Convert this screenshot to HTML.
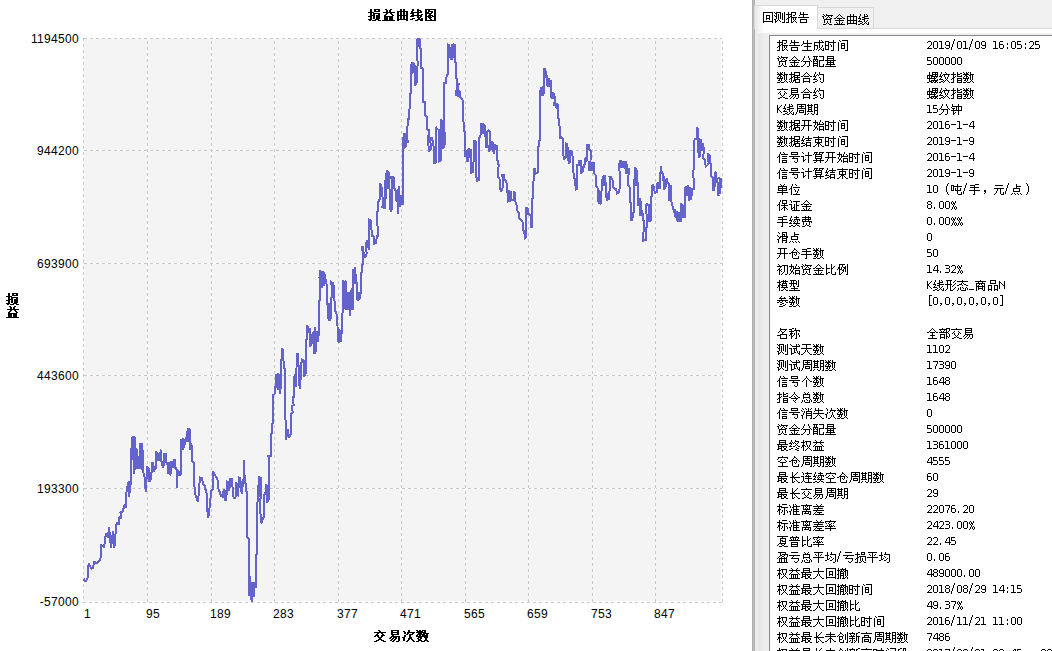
<!DOCTYPE html>
<html lang="zh"><head><meta charset="utf-8"><title>损益曲线图</title>
<style>
html,body{margin:0;padding:0;width:1052px;height:651px;overflow:hidden;background:#fff}
#app{position:relative;width:1052px;height:651px;overflow:hidden;background:#fff;font-family:"Liberation Sans",sans-serif;color:#000}
#chart{position:absolute;left:0;top:0}
.yl,.xl{position:absolute;font:12px/14px "Liberation Sans",sans-serif;white-space:nowrap;letter-spacing:.326px}
.yl{left:0;width:79px;text-align:right;margin-top:1px}
.xl{top:607px}
.t{position:absolute;line-height:0}
.t svg{display:block}
svg.c{shape-rendering:crispEdges;fill:#000;display:inline-block;vertical-align:top}
#side{position:absolute;left:752px;top:0;width:300px;height:651px;background:#f0f0f0;overflow:hidden}
#split{position:absolute;left:0;top:0;width:3px;height:651px;background:linear-gradient(90deg,#a8a8a8,#bcbcbc 50%,#b0b0b0)}
#pane{position:absolute;left:3px;top:28px;width:297px;height:623px;border-top:1px solid #d9d9d9;background:linear-gradient(90deg,#e8e8e8,#fff 9px)}
#pane i{position:absolute;left:3px;top:4px;right:0;bottom:0;background:linear-gradient(90deg,#e6e6e6,#efefef 8px,#f0f0f0)}
#tab1{position:absolute;left:2px;top:5px;width:64px;height:24px;background:linear-gradient(90deg,#e8e8e8,#fff 9px);border:1px solid #d9d9d9;border-bottom:0;box-sizing:border-box}
#tab2{position:absolute;left:66px;top:7px;width:56px;height:22px;background:#f0f0f0;border:1px solid #d9d9d9;border-left:0;box-sizing:border-box}
#tab1 span,#tab2 span{position:absolute;line-height:0}
#list{position:absolute;left:17px;top:35px;width:290px;height:620px;background:#fff;border:1px solid #828790;box-sizing:border-box}
.r{position:absolute;left:0;height:12px;line-height:12px;white-space:nowrap}
.k{position:absolute;left:777px;top:0}
.v{position:absolute;left:927px;top:0}
</style></head><body>
<div id="app">
<svg width="0" height="0" style="position:absolute"><defs><path id="g635fb13" d="M2 1h2v3h-2zM6 1h6v1h-6zM6 2h2v1h-2zM10 2h2v1h-2zM6 3h6v1h-6zM0 4h6v1h-6zM2 5h2v2h-2zM5 5h7v1h-7zM5 6h2v1h-2zM10 6h2v1h-2zM2 7h5v1h-5zM8 7h4v4h-4zM0 8h4v1h-4zM5 8h2v3h-2zM2 9h2v2h-2zM0 11h4v1h-4zM7 11h4v1h-4zM1 12h2v1h-2zM4 12h4v1h-4zM10 12h3v1h-3z"/><path id="g76cab13" d="M3 1h2v1h-2zM8 1h2v1h-2zM4 2h2v2h-2zM7 2h2v2h-2zM1 4h12v1h-12zM4 5h2v1h-2zM8 5h2v1h-2zM3 6h2v1h-2zM9 6h2v1h-2zM2 7h2v1h-2zM10 7h2v1h-2zM2 8h9v1h-9zM2 9h4v3h-4zM7 9h4v3h-4zM0 12h13v1h-13z"/><path id="g66f2b13" d="M4 1h2v2h-2zM7 1h2v2h-2zM1 3h11v1h-11zM1 4h2v3h-2zM4 4h2v3h-2zM7 4h2v3h-2zM10 4h2v3h-2zM1 7h11v1h-11zM1 8h2v3h-2zM4 8h2v3h-2zM7 8h2v3h-2zM10 8h2v3h-2zM1 11h11v1h-11zM1 12h2v1h-2zM10 12h2v1h-2z"/><path id="g7ebfb13" d="M2 1h2v2h-2zM7 1h2v1h-2zM7 2h4v1h-4zM1 3h2v1h-2zM7 3h2v1h-2zM10 3h2v1h-2zM1 4h11v1h-11zM0 5h4v1h-4zM7 5h2v2h-2zM2 6h2v1h-2zM11 6h2v1h-2zM1 7h11v1h-11zM0 8h4v1h-4zM7 8h2v1h-2zM10 8h2v1h-2zM7 9h4v1h-4zM2 10h3v1h-3zM8 10h2v1h-2zM11 10h2v1h-2zM0 11h3v1h-3zM7 11h6v1h-6zM5 12h3v1h-3zM10 12h3v1h-3z"/><path id="g56feb13" d="M1 1h11v1h-11zM1 2h2v2h-2zM4 2h2v1h-2zM10 2h2v6h-2zM4 3h5v1h-5zM1 4h4v1h-4zM7 4h2v1h-2zM1 5h7v1h-7zM1 6h2v2h-2zM5 6h2v1h-2zM4 7h5v1h-5zM1 8h6v1h-6zM8 8h4v1h-4zM1 9h2v3h-2zM4 9h4v1h-4zM10 9h2v3h-2zM5 10h2v1h-2zM6 11h2v1h-2zM1 12h11v1h-11z"/><path id="g4ea4b13" d="M4 1h2v1h-2zM5 2h2v1h-2zM0 3h12v1h-12zM3 4h2v1h-2zM7 4h2v1h-2zM2 5h2v1h-2zM8 5h2v1h-2zM1 6h4v1h-4zM7 6h4v1h-4zM0 7h2v1h-2zM3 7h2v1h-2zM7 7h2v1h-2zM4 8h4v1h-4zM5 9h2v1h-2zM4 10h4v1h-4zM2 11h3v1h-3zM7 11h3v1h-3zM0 12h3v1h-3zM9 12h3v1h-3z"/><path id="g6613b13" d="M3 1h8v1h-8zM3 2h2v1h-2zM9 2h2v1h-2zM3 3h8v1h-8zM3 4h2v1h-2zM9 4h2v1h-2zM3 5h8v1h-8zM4 6h2v1h-2zM3 7h9v1h-9zM2 8h2v1h-2zM5 8h4v1h-4zM10 8h2v4h-2zM1 9h2v1h-2zM4 9h2v1h-2zM7 9h2v1h-2zM3 10h2v1h-2zM6 10h2v1h-2zM2 11h2v1h-2zM5 11h2v1h-2zM4 12h2v1h-2zM8 12h3v1h-3z"/><path id="g6b21b13" d="M6 1h2v2h-2zM1 2h2v1h-2zM2 3h2v2h-2zM5 3h8v1h-8zM5 4h2v1h-2zM10 4h2v1h-2zM4 5h2v1h-2zM7 5h4v1h-4zM2 6h2v2h-2zM7 6h2v2h-2zM0 8h3v1h-3zM7 8h3v1h-3zM1 9h2v3h-2zM6 9h4v1h-4zM6 10h2v1h-2zM9 10h2v1h-2zM5 11h2v1h-2zM10 11h2v1h-2zM4 12h2v1h-2zM11 12h2v1h-2z"/><path id="g6570b13" d="M0 1h2v1h-2zM3 1h2v1h-2zM6 1h4v1h-4zM1 2h6v1h-6zM8 2h2v1h-2zM0 3h10v1h-10zM2 4h4v1h-4zM7 4h6v1h-6zM1 5h8v1h-8zM10 5h2v1h-2zM0 6h2v1h-2zM3 6h2v1h-2zM6 6h6v1h-6zM0 7h12v1h-12zM2 8h4v1h-4zM8 8h4v1h-4zM1 9h2v1h-2zM4 9h2v1h-2zM9 9h2v2h-2zM2 10h3v1h-3zM2 11h4v1h-4zM8 11h4v1h-4zM0 12h3v1h-3zM5 12h4v1h-4zM11 12h2v1h-2z"/><path id="g56de" d="M1 1h10v1h-10zM1 2h1v8h-1zM10 2h1v8h-1zM4 4h4v1h-4zM4 5h1v2h-1zM7 5h1v2h-1zM4 7h4v1h-4zM4 8h1v1h-1zM7 8h1v1h-1zM1 10h10v1h-10zM1 11h1v1h-1zM10 11h1v1h-1z"/><path id="g6d4b" d="M0 1h1v1h-1zM2 1h5v1h-5zM10 1h1v10h-1zM1 2h2v1h-2zM6 2h1v6h-1zM8 2h1v7h-1zM2 3h1v2h-1zM4 3h1v6h-1zM0 4h1v1h-1zM1 5h2v1h-2zM2 6h1v2h-1zM0 8h2v1h-2zM1 9h1v1h-1zM3 9h1v1h-1zM5 9h1v1h-1zM1 10h2v1h-2zM6 10h1v1h-1zM1 11h1v1h-1zM8 11h3v1h-3z"/><path id="g62a5" d="M2 1h1v2h-1zM5 1h5v1h-5zM5 2h1v1h-1zM9 2h1v2h-1zM0 3h6v1h-6zM2 4h1v2h-1zM5 4h1v1h-1zM7 4h2v1h-2zM4 5h2v1h-2zM2 6h2v1h-2zM5 6h6v1h-6zM1 7h2v1h-2zM5 7h1v4h-1zM7 7h1v2h-1zM9 7h1v2h-1zM0 8h1v1h-1zM2 8h1v3h-1zM8 9h1v1h-1zM7 10h1v1h-1zM9 10h1v1h-1zM0 11h3v1h-3zM5 11h2v1h-2zM10 11h1v1h-1z"/><path id="g544a" d="M2 1h1v2h-1zM5 1h1v2h-1zM2 3h8v1h-8zM1 4h1v1h-1zM5 4h1v2h-1zM0 6h11v1h-11zM2 8h7v1h-7zM2 9h1v2h-1zM8 9h1v2h-1zM2 11h7v1h-7z"/><path id="g8d44" d="M1 1h1v1h-1zM4 1h1v1h-1zM2 2h1v1h-1zM4 2h7v1h-7zM0 3h2v1h-2zM3 3h1v1h-1zM6 3h1v1h-1zM9 3h1v1h-1zM1 4h1v2h-1zM5 4h1v1h-1zM7 4h1v1h-1zM4 5h1v1h-1zM8 5h2v1h-2zM2 6h7v1h-7zM2 7h1v3h-1zM8 7h1v3h-1zM5 8h1v2h-1zM4 10h1v1h-1zM6 10h1v1h-1zM1 11h3v1h-3zM7 11h3v1h-3z"/><path id="g91d1" d="M5 1h1v1h-1zM4 2h1v1h-1zM6 2h1v1h-1zM3 3h1v1h-1zM7 3h1v1h-1zM2 4h1v1h-1zM8 4h1v1h-1zM0 5h2v1h-2zM3 5h5v1h-5zM9 5h2v1h-2zM5 6h1v1h-1zM1 7h9v1h-9zM5 8h1v3h-1zM2 9h1v1h-1zM8 9h1v1h-1zM3 10h1v1h-1zM7 10h1v1h-1zM0 11h11v1h-11z"/><path id="g66f2" d="M4 1h1v2h-1zM7 1h1v2h-1zM1 3h10v1h-10zM1 4h1v3h-1zM4 4h1v3h-1zM7 4h1v3h-1zM10 4h1v3h-1zM1 7h10v1h-10zM1 8h1v2h-1zM4 8h1v2h-1zM7 8h1v2h-1zM10 8h1v2h-1zM1 10h10v1h-10zM1 11h1v1h-1zM10 11h1v1h-1z"/><path id="g7ebf" d="M2 1h1v2h-1zM6 1h1v2h-1zM8 1h1v1h-1zM9 2h1v1h-1zM1 3h1v2h-1zM6 3h4v1h-4zM4 4h3v1h-3zM0 5h3v1h-3zM6 5h5v1h-5zM2 6h1v1h-1zM4 6h3v1h-3zM1 7h1v1h-1zM6 7h1v2h-1zM9 7h1v1h-1zM0 8h4v1h-4zM8 8h1v1h-1zM4 9h1v1h-1zM7 9h1v1h-1zM10 9h1v2h-1zM2 10h2v1h-2zM6 10h1v1h-1zM8 10h1v1h-1zM0 11h2v1h-2zM4 11h2v1h-2zM9 11h2v1h-2z"/><path id="g751f" d="M6 1h1v3h-1zM2 2h1v2h-1zM2 4h9v1h-9zM1 5h1v1h-1zM6 5h1v2h-1zM0 6h1v1h-1zM3 7h7v1h-7zM6 8h1v3h-1zM1 11h10v1h-10z"/><path id="g6210" d="M6 1h1v2h-1zM8 1h1v1h-1zM9 2h1v1h-1zM1 3h10v1h-10zM1 4h1v2h-1zM6 4h1v5h-1zM1 6h4v1h-4zM9 6h1v2h-1zM1 7h1v4h-1zM4 7h1v3h-1zM8 8h1v1h-1zM7 9h1v1h-1zM10 9h1v2h-1zM3 10h1v1h-1zM6 10h1v1h-1zM8 10h1v1h-1zM0 11h1v1h-1zM5 11h1v1h-1zM9 11h2v1h-2z"/><path id="g65f6" d="M8 1h1v2h-1zM0 2h4v1h-4zM0 3h1v3h-1zM3 3h8v1h-8zM3 4h1v2h-1zM8 4h1v7h-1zM5 5h1v1h-1zM0 6h4v1h-4zM6 6h1v2h-1zM0 7h1v3h-1zM3 7h1v3h-1zM0 10h4v1h-4zM6 11h3v1h-3z"/><path id="g95f4" d="M2 1h1v1h-1zM5 1h6v1h-6zM3 2h1v1h-1zM10 2h1v9h-1zM1 3h1v9h-1zM4 4h4v1h-4zM4 5h1v1h-1zM7 5h1v1h-1zM4 6h4v1h-4zM4 7h1v2h-1zM7 7h1v2h-1zM4 9h4v1h-4zM8 11h3v1h-3z"/><path id="g32" d="M1 3h3v1h-3zM0 4h1v1h-1zM4 4h1v3h-1zM3 7h1v1h-1zM2 8h1v1h-1zM1 9h1v1h-1zM0 10h5v1h-5z"/><path id="g30" d="M1 3h3v1h-3zM0 4h1v6h-1zM4 4h1v6h-1zM1 10h3v1h-3z"/><path id="g31" d="M0 3h3v1h-3zM2 4h1v6h-1zM0 10h5v1h-5z"/><path id="g39" d="M1 3h3v1h-3zM0 4h1v3h-1zM4 4h1v3h-1zM1 7h4v1h-4zM4 8h1v2h-1zM0 9h1v1h-1zM1 10h3v1h-3z"/><path id="g2f" d="M3 0h1v3h-1zM2 3h1v3h-1zM1 6h1v3h-1zM0 9h1v3h-1z"/><path id="g36" d="M1 3h3v1h-3zM0 4h1v2h-1zM0 6h4v1h-4zM0 7h1v3h-1zM4 7h1v3h-1zM1 10h3v1h-3z"/><path id="g3a" d="M0 5h1v2h-1zM0 9h1v2h-1z"/><path id="g35" d="M0 3h4v1h-4zM0 4h1v2h-1zM0 6h4v1h-4zM4 7h1v3h-1zM0 10h4v1h-4z"/><path id="g5206" d="M3 1h1v2h-1zM7 1h1v2h-1zM2 3h1v2h-1zM8 3h1v2h-1zM1 5h1v1h-1zM9 5h1v1h-1zM0 6h1v1h-1zM2 6h7v1h-7zM10 6h1v1h-1zM4 7h1v2h-1zM8 7h1v4h-1zM3 9h1v1h-1zM2 10h1v1h-1zM0 11h2v1h-2zM6 11h2v1h-2z"/><path id="g914d" d="M0 1h5v1h-5zM6 1h5v1h-5zM1 2h1v2h-1zM3 2h1v2h-1zM10 2h1v3h-1zM0 4h5v1h-5zM0 5h1v1h-1zM2 5h1v1h-1zM4 5h1v1h-1zM6 5h5v1h-5zM0 6h2v1h-2zM3 6h2v1h-2zM6 6h1v5h-1zM0 7h1v1h-1zM4 7h1v1h-1zM0 8h5v1h-5zM0 9h1v1h-1zM4 9h1v1h-1zM10 9h1v2h-1zM0 10h5v1h-5zM0 11h1v1h-1zM4 11h1v1h-1zM6 11h5v1h-5z"/><path id="g91cf" d="M2 1h7v1h-7zM2 2h1v1h-1zM8 2h1v1h-1zM2 3h7v1h-7zM2 4h1v1h-1zM8 4h1v1h-1zM0 5h11v1h-11zM2 6h1v1h-1zM5 6h1v1h-1zM8 6h1v1h-1zM2 7h7v1h-7zM2 8h1v1h-1zM5 8h1v1h-1zM8 8h1v1h-1zM1 9h9v1h-9zM5 10h1v1h-1zM0 11h11v1h-11z"/><path id="g6570" d="M0 1h1v1h-1zM3 1h1v1h-1zM5 1h1v1h-1zM7 1h1v2h-1zM1 2h1v1h-1zM3 2h2v1h-2zM0 3h6v1h-6zM7 3h4v1h-4zM2 4h2v1h-2zM6 4h2v1h-2zM9 4h1v5h-1zM1 5h1v1h-1zM3 5h2v1h-2zM7 5h1v4h-1zM0 6h1v1h-1zM3 6h1v1h-1zM5 6h1v1h-1zM0 7h6v1h-6zM2 8h1v1h-1zM4 8h1v2h-1zM1 9h2v1h-2zM8 9h1v1h-1zM3 10h1v1h-1zM7 10h1v1h-1zM9 10h1v1h-1zM0 11h3v1h-3zM4 11h3v1h-3zM10 11h1v1h-1z"/><path id="g636e" d="M2 1h1v2h-1zM5 1h6v1h-6zM5 2h1v1h-1zM10 2h1v2h-1zM0 3h6v1h-6zM2 4h1v2h-1zM5 4h6v1h-6zM4 5h2v1h-2zM8 5h1v1h-1zM2 6h2v1h-2zM5 6h6v1h-6zM1 7h2v1h-2zM5 7h1v1h-1zM8 7h1v1h-1zM0 8h1v1h-1zM2 8h1v3h-1zM5 8h6v1h-6zM4 9h3v1h-3zM10 9h1v2h-1zM0 10h1v1h-1zM4 10h1v1h-1zM6 10h1v1h-1zM1 11h1v1h-1zM3 11h1v1h-1zM6 11h5v1h-5z"/><path id="g5408" d="M5 1h1v1h-1zM4 2h1v1h-1zM6 2h1v1h-1zM3 3h1v1h-1zM7 3h1v1h-1zM2 4h1v1h-1zM8 4h1v1h-1zM0 5h2v1h-2zM3 5h5v1h-5zM9 5h2v1h-2zM2 7h7v1h-7zM2 8h1v2h-1zM8 8h1v2h-1zM2 10h7v1h-7zM2 11h1v1h-1zM8 11h1v1h-1z"/><path id="g7ea6" d="M2 1h1v2h-1zM6 1h1v2h-1zM1 3h1v2h-1zM4 3h1v1h-1zM6 3h5v1h-5zM3 4h1v1h-1zM5 4h1v1h-1zM10 4h1v7h-1zM0 5h3v1h-3zM2 6h1v1h-1zM6 6h1v1h-1zM1 7h1v1h-1zM7 7h1v2h-1zM0 8h4v1h-4zM4 9h1v1h-1zM2 10h2v1h-2zM7 10h1v1h-1zM0 11h2v1h-2zM8 11h2v1h-2z"/><path id="g87ba" d="M2 1h1v3h-1zM5 1h6v1h-6zM5 2h1v1h-1zM8 2h1v1h-1zM10 2h1v1h-1zM5 3h6v1h-6zM0 4h6v1h-6zM8 4h1v1h-1zM10 4h1v1h-1zM0 5h1v2h-1zM2 5h1v2h-1zM4 5h7v1h-7zM4 6h1v1h-1zM7 6h1v1h-1zM9 6h1v1h-1zM0 7h9v1h-9zM2 8h1v2h-1zM7 8h1v1h-1zM10 8h1v1h-1zM4 9h7v1h-7zM2 10h3v1h-3zM6 10h1v1h-1zM8 10h2v1h-2zM0 11h2v1h-2zM4 11h2v1h-2zM7 11h2v1h-2zM10 11h1v1h-1z"/><path id="g7eb9" d="M2 1h1v2h-1zM6 1h1v1h-1zM7 2h1v1h-1zM1 3h1v2h-1zM4 3h7v1h-7zM3 4h1v1h-1zM5 4h1v2h-1zM9 4h1v2h-1zM0 5h3v1h-3zM2 6h1v1h-1zM6 6h1v2h-1zM8 6h1v2h-1zM1 7h1v1h-1zM0 8h4v1h-4zM7 8h1v1h-1zM4 9h1v1h-1zM6 9h1v1h-1zM8 9h1v1h-1zM2 10h2v1h-2zM5 10h1v1h-1zM9 10h1v1h-1zM0 11h2v1h-2zM4 11h1v1h-1zM10 11h1v1h-1z"/><path id="g6307" d="M2 1h1v2h-1zM6 1h1v2h-1zM9 2h2v1h-2zM0 3h5v1h-5zM6 3h3v1h-3zM2 4h1v2h-1zM6 4h1v1h-1zM10 4h1v1h-1zM4 5h1v1h-1zM6 5h5v1h-5zM2 6h2v1h-2zM1 7h2v1h-2zM6 7h5v1h-5zM0 8h1v1h-1zM2 8h1v3h-1zM6 8h1v1h-1zM10 8h1v1h-1zM6 9h5v1h-5zM6 10h1v1h-1zM10 10h1v1h-1zM0 11h3v1h-3zM6 11h5v1h-5z"/><path id="g4ea4" d="M5 1h1v1h-1zM0 2h11v1h-11zM3 4h1v1h-1zM7 4h1v1h-1zM2 5h1v1h-1zM8 5h1v1h-1zM1 6h1v1h-1zM3 6h1v2h-1zM7 6h1v2h-1zM9 6h1v1h-1zM4 8h1v1h-1zM6 8h1v1h-1zM5 9h1v1h-1zM3 10h2v1h-2zM6 10h2v1h-2zM1 11h2v1h-2zM8 11h3v1h-3z"/><path id="g6613" d="M2 1h7v1h-7zM2 2h1v1h-1zM8 2h1v1h-1zM2 3h7v1h-7zM2 4h1v1h-1zM8 4h1v1h-1zM2 5h7v1h-7zM2 6h1v1h-1zM2 7h8v1h-8zM1 8h1v1h-1zM4 8h1v1h-1zM6 8h1v2h-1zM9 8h1v3h-1zM0 9h1v1h-1zM3 9h1v1h-1zM2 10h1v1h-1zM5 10h1v1h-1zM1 11h1v1h-1zM4 11h1v1h-1zM7 11h2v1h-2z"/><path id="g4b" d="M0 3h1v3h-1zM4 3h1v1h-1zM3 4h1v1h-1zM2 5h1v1h-1zM0 6h2v2h-2zM0 8h1v3h-1zM2 8h1v1h-1zM3 9h1v1h-1zM4 10h1v1h-1z"/><path id="g5468" d="M2 1h9v1h-9zM2 2h1v3h-1zM6 2h1v1h-1zM10 2h1v3h-1zM4 3h5v1h-5zM6 4h1v1h-1zM2 5h9v1h-9zM2 6h1v3h-1zM10 6h1v5h-1zM4 7h5v1h-5zM4 8h1v1h-1zM8 8h1v1h-1zM1 9h1v2h-1zM4 9h5v1h-5zM0 11h1v1h-1zM9 11h2v1h-2z"/><path id="g671f" d="M1 1h1v1h-1zM4 1h1v1h-1zM7 1h4v1h-4zM0 2h6v1h-6zM7 2h1v2h-1zM10 2h1v2h-1zM1 3h1v1h-1zM4 3h1v1h-1zM1 4h4v1h-4zM7 4h4v1h-4zM1 5h1v1h-1zM4 5h1v1h-1zM7 5h1v2h-1zM10 5h1v2h-1zM1 6h4v1h-4zM1 7h1v1h-1zM4 7h1v1h-1zM7 7h4v1h-4zM0 8h6v1h-6zM7 8h1v3h-1zM10 8h1v3h-1zM1 10h1v1h-1zM4 10h1v1h-1zM0 11h1v1h-1zM5 11h2v1h-2zM9 11h2v1h-2z"/><path id="g949f" d="M1 1h1v2h-1zM7 1h1v2h-1zM1 3h10v1h-10zM0 4h1v1h-1zM5 4h1v3h-1zM7 4h1v3h-1zM10 4h1v3h-1zM1 5h3v1h-3zM2 6h1v1h-1zM0 7h11v1h-11zM2 8h1v2h-1zM7 8h1v4h-1zM4 9h1v1h-1zM2 10h2v1h-2zM2 11h1v1h-1z"/><path id="g5f00" d="M1 1h9v1h-9zM3 2h1v4h-1zM7 2h1v4h-1zM0 6h11v1h-11zM3 7h1v1h-1zM7 7h1v5h-1zM2 8h1v2h-1zM1 10h1v1h-1zM0 11h1v1h-1z"/><path id="g59cb" d="M2 1h1v2h-1zM7 1h1v2h-1zM0 3h5v1h-5zM6 3h1v2h-1zM9 3h1v1h-1zM2 4h1v2h-1zM4 4h1v1h-1zM10 4h1v1h-1zM4 5h7v1h-7zM1 6h1v2h-1zM4 6h1v1h-1zM3 7h1v1h-1zM6 7h5v1h-5zM2 8h2v1h-2zM6 8h1v2h-1zM10 8h1v2h-1zM2 9h1v1h-1zM4 9h1v2h-1zM1 10h1v1h-1zM6 10h5v1h-5zM0 11h1v1h-1zM6 11h1v1h-1zM10 11h1v1h-1z"/><path id="g2d" d="M0 6h5v1h-5z"/><path id="g34" d="M3 3h2v1h-2zM2 4h1v1h-1zM4 4h1v4h-1zM1 5h1v2h-1zM0 7h1v1h-1zM0 8h6v1h-6zM4 9h1v2h-1z"/><path id="g7ed3" d="M2 1h1v2h-1zM7 1h1v2h-1zM1 3h1v2h-1zM4 3h7v1h-7zM3 4h1v1h-1zM7 4h1v1h-1zM0 5h3v1h-3zM5 5h5v1h-5zM2 6h1v1h-1zM1 7h1v1h-1zM5 7h5v1h-5zM0 8h4v1h-4zM5 8h1v1h-1zM9 8h1v2h-1zM4 9h2v1h-2zM2 10h2v1h-2zM5 10h5v1h-5zM0 11h2v1h-2zM5 11h1v1h-1zM9 11h1v1h-1z"/><path id="g675f" d="M5 1h1v1h-1zM0 2h11v1h-11zM5 3h1v1h-1zM2 4h7v1h-7zM2 5h1v2h-1zM5 5h1v2h-1zM8 5h1v2h-1zM2 7h7v1h-7zM4 8h3v1h-3zM3 9h1v1h-1zM5 9h1v3h-1zM7 9h1v1h-1zM2 10h1v1h-1zM8 10h1v1h-1zM0 11h2v1h-2zM9 11h2v1h-2z"/><path id="g4fe1" d="M3 1h1v2h-1zM6 1h1v1h-1zM7 2h1v1h-1zM2 3h1v2h-1zM4 3h7v1h-7zM1 5h2v1h-2zM5 5h5v1h-5zM0 6h1v1h-1zM2 6h1v6h-1zM5 7h5v1h-5zM5 9h5v1h-5zM5 10h1v1h-1zM9 10h1v1h-1zM5 11h5v1h-5z"/><path id="g53f7" d="M2 1h7v1h-7zM2 2h1v1h-1zM8 2h1v1h-1zM2 3h7v1h-7zM0 5h11v1h-11zM4 6h1v1h-1zM3 7h6v1h-6zM8 8h1v3h-1zM5 10h1v1h-1zM6 11h2v1h-2z"/><path id="g8ba1" d="M1 1h1v1h-1zM7 1h1v3h-1zM2 2h1v1h-1zM4 4h7v1h-7zM0 5h3v1h-3zM7 5h1v7h-1zM2 6h1v3h-1zM4 8h1v1h-1zM2 9h2v1h-2zM2 10h1v1h-1z"/><path id="g7b97" d="M1 1h4v1h-4zM6 1h5v1h-5zM1 2h1v1h-1zM3 2h1v1h-1zM6 2h1v1h-1zM9 2h1v1h-1zM0 3h1v1h-1zM2 3h7v1h-7zM2 4h1v1h-1zM8 4h1v1h-1zM2 5h7v1h-7zM2 6h1v1h-1zM8 6h1v1h-1zM2 7h7v1h-7zM3 8h1v1h-1zM7 8h1v1h-1zM0 9h11v1h-11zM3 10h1v1h-1zM7 10h1v2h-1zM1 11h2v1h-2z"/><path id="g5355" d="M3 1h1v1h-1zM7 1h1v1h-1zM4 2h1v1h-1zM6 2h1v1h-1zM1 3h9v1h-9zM1 4h1v1h-1zM5 4h1v1h-1zM9 4h1v1h-1zM1 5h9v1h-9zM1 6h1v1h-1zM5 6h1v1h-1zM9 6h1v1h-1zM1 7h9v1h-9zM5 8h1v1h-1zM0 9h11v1h-11zM5 10h1v2h-1z"/><path id="g4f4d" d="M3 1h1v2h-1zM6 1h1v1h-1zM7 2h1v1h-1zM2 3h1v2h-1zM4 4h7v1h-7zM1 5h2v1h-2zM0 6h1v1h-1zM2 6h1v6h-1zM5 6h1v1h-1zM9 6h1v2h-1zM6 7h1v2h-1zM8 8h1v2h-1zM7 10h1v1h-1zM4 11h7v1h-7z"/><path id="gff08" d="M9 0h1v1h-1zM8 1h1v2h-1zM7 3h1v6h-1zM8 9h1v2h-1zM9 11h1v1h-1z"/><path id="g5428" d="M6 1h1v2h-1zM0 2h3v1h-3zM0 3h1v4h-1zM2 3h9v1h-9zM2 4h1v3h-1zM6 4h1v3h-1zM4 5h1v2h-1zM9 5h1v2h-1zM0 7h3v1h-3zM4 7h6v1h-6zM6 8h1v3h-1zM10 9h1v2h-1zM7 11h4v1h-4z"/><path id="g624b" d="M6 1h4v1h-4zM1 2h5v1h-5zM5 3h1v1h-1zM1 4h9v1h-9zM5 5h1v2h-1zM0 7h11v1h-11zM5 8h1v3h-1zM4 11h2v1h-2z"/><path id="gff0c" d="M3 7h2v2h-2zM4 9h1v1h-1zM3 10h1v1h-1z"/><path id="g5143" d="M2 2h8v1h-8zM1 5h10v1h-10zM4 6h1v2h-1zM7 6h1v5h-1zM3 8h1v2h-1zM10 9h1v2h-1zM2 10h1v1h-1zM1 11h1v1h-1zM8 11h3v1h-3z"/><path id="g70b9" d="M5 1h1v2h-1zM5 3h5v1h-5zM5 4h1v1h-1zM2 5h7v1h-7zM2 6h1v2h-1zM8 6h1v2h-1zM2 8h7v1h-7zM1 10h1v1h-1zM3 10h1v1h-1zM6 10h1v1h-1zM9 10h1v1h-1zM0 11h1v1h-1zM4 11h1v1h-1zM7 11h1v1h-1zM10 11h1v1h-1z"/><path id="gff09" d="M3 0h1v1h-1zM4 1h1v2h-1zM5 3h1v6h-1zM4 9h1v2h-1zM3 11h1v1h-1z"/><path id="g4fdd" d="M3 1h1v2h-1zM5 1h5v1h-5zM5 2h1v2h-1zM9 2h1v2h-1zM2 3h1v2h-1zM5 4h5v1h-5zM1 5h2v1h-2zM7 5h1v1h-1zM0 6h1v1h-1zM2 6h1v6h-1zM4 6h7v1h-7zM7 7h1v1h-1zM6 8h3v1h-3zM5 9h1v1h-1zM7 9h1v3h-1zM9 9h1v1h-1zM4 10h1v1h-1zM10 10h1v1h-1z"/><path id="g8bc1" d="M1 1h1v1h-1zM2 2h1v2h-1zM4 2h7v1h-7zM7 3h1v3h-1zM0 5h3v1h-3zM5 5h1v3h-1zM2 6h1v3h-1zM7 6h3v1h-3zM7 7h1v4h-1zM4 8h2v1h-2zM2 9h2v1h-2zM5 9h1v2h-1zM2 10h1v1h-1zM3 11h8v1h-8z"/><path id="g38" d="M1 3h3v1h-3zM0 4h1v2h-1zM4 4h1v2h-1zM1 6h3v1h-3zM0 7h1v3h-1zM4 7h1v3h-1zM1 10h3v1h-3z"/><path id="g2e" d="M2 9h1v2h-1z"/><path id="g25" d="M1 3h1v1h-1zM4 3h1v2h-1zM0 4h1v2h-1zM2 4h1v1h-1zM2 5h2v1h-2zM1 6h1v1h-1zM3 6h1v1h-1zM2 7h1v2h-1zM4 8h1v1h-1zM1 9h1v2h-1zM3 9h1v2h-1zM5 9h1v2h-1zM0 11h1v1h-1zM4 11h1v1h-1z"/><path id="g7eed" d="M2 1h1v2h-1zM7 1h1v1h-1zM5 2h5v1h-5zM1 3h1v2h-1zM7 3h1v1h-1zM3 4h1v1h-1zM5 4h6v1h-6zM0 5h3v1h-3zM5 5h1v1h-1zM8 5h1v3h-1zM10 5h1v1h-1zM2 6h1v1h-1zM4 6h1v1h-1zM6 6h1v1h-1zM1 7h1v1h-1zM5 7h1v1h-1zM0 8h3v1h-3zM4 8h7v1h-7zM7 9h1v1h-1zM2 10h2v1h-2zM6 10h1v1h-1zM8 10h2v1h-2zM0 11h2v1h-2zM4 11h2v1h-2zM10 11h1v1h-1z"/><path id="g8d39" d="M4 1h1v1h-1zM7 1h1v1h-1zM1 2h9v1h-9zM4 3h1v1h-1zM7 3h1v1h-1zM9 3h1v1h-1zM1 4h9v1h-9zM1 5h1v1h-1zM4 5h1v1h-1zM7 5h1v1h-1zM1 6h10v1h-10zM2 7h1v3h-1zM8 7h1v3h-1zM10 7h1v1h-1zM5 8h1v2h-1zM4 10h1v1h-1zM6 10h2v1h-2zM1 11h3v1h-3zM8 11h2v1h-2z"/><path id="g6ed1" d="M1 1h1v1h-1zM5 1h5v1h-5zM2 2h1v1h-1zM5 2h1v1h-1zM9 2h1v3h-1zM5 3h3v1h-3zM0 4h1v1h-1zM5 4h1v1h-1zM7 4h1v1h-1zM1 5h1v1h-1zM3 5h8v1h-8zM2 6h2v1h-2zM5 6h1v1h-1zM9 6h2v1h-2zM2 7h1v1h-1zM5 7h5v1h-5zM0 8h2v1h-2zM5 8h1v1h-1zM9 8h1v1h-1zM1 9h1v3h-1zM5 9h5v1h-5zM5 10h1v2h-1zM9 10h1v1h-1zM8 11h2v1h-2z"/><path id="g4ed3" d="M5 1h1v1h-1zM5 2h2v1h-2zM4 3h1v1h-1zM7 3h1v1h-1zM3 4h1v1h-1zM8 4h1v1h-1zM2 5h6v1h-6zM9 5h1v1h-1zM0 6h2v1h-2zM3 6h1v5h-1zM7 6h1v2h-1zM10 6h1v1h-1zM5 7h1v1h-1zM6 8h1v1h-1zM9 9h1v2h-1zM4 11h6v1h-6z"/><path id="g521d" d="M1 1h1v1h-1zM2 2h1v1h-1zM5 2h6v1h-6zM0 3h5v1h-5zM7 3h1v6h-1zM10 3h1v8h-1zM3 4h1v1h-1zM2 5h1v1h-1zM1 6h2v1h-2zM4 6h1v1h-1zM0 7h1v1h-1zM2 7h2v1h-2zM2 8h1v4h-1zM4 8h1v1h-1zM6 9h1v1h-1zM5 10h1v1h-1zM4 11h1v1h-1zM8 11h2v1h-2z"/><path id="g6bd4" d="M1 1h1v4h-1zM6 1h1v4h-1zM9 3h1v1h-1zM8 4h1v1h-1zM1 5h4v1h-4zM6 5h2v1h-2zM1 6h1v4h-1zM6 6h1v5h-1zM3 9h2v1h-2zM10 9h1v2h-1zM1 10h2v1h-2zM1 11h1v1h-1zM7 11h4v1h-4z"/><path id="g4f8b" d="M2 1h6v1h-6zM10 1h1v10h-1zM2 2h1v2h-1zM5 2h1v2h-1zM8 3h1v1h-1zM1 4h2v2h-2zM4 4h1v2h-1zM6 4h3v1h-3zM7 5h2v1h-2zM0 6h1v1h-1zM2 6h3v1h-3zM6 6h1v1h-1zM8 6h1v3h-1zM2 7h1v4h-1zM5 7h2v1h-2zM6 8h1v1h-1zM5 9h1v1h-1zM4 10h1v1h-1zM2 11h2v1h-2zM9 11h2v1h-2z"/><path id="g33" d="M0 3h4v1h-4zM4 4h1v2h-1zM1 6h3v1h-3zM4 7h1v3h-1zM0 10h4v1h-4z"/><path id="g6a21" d="M2 1h1v2h-1zM6 1h1v1h-1zM8 1h1v1h-1zM4 2h7v1h-7zM0 3h4v1h-4zM6 3h1v1h-1zM8 3h1v1h-1zM2 4h1v1h-1zM5 4h5v1h-5zM2 5h2v1h-2zM5 5h1v1h-1zM9 5h1v1h-1zM1 6h2v2h-2zM4 6h6v1h-6zM5 7h1v1h-1zM9 7h1v1h-1zM0 8h1v1h-1zM2 8h1v4h-1zM4 8h7v1h-7zM7 9h1v1h-1zM6 10h1v1h-1zM8 10h1v1h-1zM4 11h2v1h-2zM9 11h2v1h-2z"/><path id="g578b" d="M1 1h6v1h-6zM9 1h1v6h-1zM2 2h1v2h-1zM4 2h1v2h-1zM7 2h1v2h-1zM0 4h8v1h-8zM2 5h1v2h-1zM4 5h1v2h-1zM7 5h1v1h-1zM1 7h1v1h-1zM4 7h2v1h-2zM8 7h2v1h-2zM5 8h1v1h-1zM2 9h7v1h-7zM5 10h1v1h-1zM0 11h11v1h-11z"/><path id="g5f62" d="M1 1h6v1h-6zM10 1h1v1h-1zM2 2h1v3h-1zM5 2h1v3h-1zM9 2h1v1h-1zM8 3h1v1h-1zM10 4h1v1h-1zM0 5h7v1h-7zM9 5h1v1h-1zM2 6h1v4h-1zM5 6h1v5h-1zM8 6h1v1h-1zM7 7h1v1h-1zM10 8h1v1h-1zM9 9h1v1h-1zM1 10h1v1h-1zM8 10h1v1h-1zM0 11h1v1h-1zM5 11h3v1h-3z"/><path id="g6001" d="M5 1h1v1h-1zM0 2h11v1h-11zM5 3h1v1h-1zM4 4h1v1h-1zM6 4h1v1h-1zM2 5h3v1h-3zM7 5h2v1h-2zM0 6h2v1h-2zM5 6h1v1h-1zM9 6h2v1h-2zM3 8h1v3h-1zM5 8h1v1h-1zM9 8h1v1h-1zM1 9h1v2h-1zM6 9h1v1h-1zM8 9h1v2h-1zM10 9h1v2h-1zM0 11h1v1h-1zM4 11h5v1h-5z"/><path id="g5f" d="M0 11h5v1h-5z"/><path id="g5546" d="M5 1h1v1h-1zM0 2h11v1h-11zM3 3h1v1h-1zM7 3h1v1h-1zM1 4h9v1h-9zM1 5h1v2h-1zM4 5h1v1h-1zM6 5h1v1h-1zM9 5h1v2h-1zM3 6h1v1h-1zM7 6h1v1h-1zM1 7h9v1h-9zM1 8h1v4h-1zM3 8h1v1h-1zM7 8h1v1h-1zM9 8h1v3h-1zM3 9h5v1h-5zM3 10h1v1h-1zM7 10h1v1h-1zM8 11h2v1h-2z"/><path id="g54c1" d="M3 1h6v1h-6zM3 2h1v2h-1zM8 2h1v2h-1zM3 4h6v1h-6zM1 6h4v1h-4zM7 6h4v1h-4zM1 7h1v3h-1zM4 7h1v3h-1zM7 7h1v3h-1zM10 7h1v3h-1zM1 10h4v1h-4zM7 10h4v1h-4zM1 11h1v1h-1zM4 11h1v1h-1zM7 11h1v1h-1zM10 11h1v1h-1z"/><path id="g4e" d="M0 3h1v1h-1zM5 3h1v4h-1zM0 4h2v1h-2zM0 5h1v6h-1zM2 5h1v1h-1zM3 6h1v1h-1zM4 7h2v1h-2zM5 8h1v3h-1z"/><path id="g53c2" d="M4 1h1v1h-1zM3 2h1v1h-1zM7 2h1v1h-1zM2 3h7v1h-7zM4 4h1v1h-1zM0 5h11v1h-11zM2 6h1v1h-1zM5 6h1v1h-1zM8 6h1v1h-1zM0 7h2v1h-2zM3 7h2v1h-2zM9 7h2v1h-2zM5 8h2v1h-2zM3 9h2v1h-2zM8 9h1v1h-1zM6 10h2v1h-2zM2 11h4v1h-4z"/><path id="g5b" d="M2 1h3v1h-3zM2 2h1v9h-1zM2 11h3v1h-3z"/><path id="g2c" d="M2 9h2v1h-2zM3 10h1v1h-1zM2 11h1v1h-1z"/><path id="g5d" d="M1 1h3v1h-3zM3 2h1v9h-1zM1 11h3v1h-3z"/><path id="g540d" d="M3 1h1v1h-1zM3 2h7v1h-7zM3 3h1v1h-1zM8 3h1v1h-1zM2 4h1v1h-1zM4 4h1v1h-1zM7 4h1v1h-1zM1 5h1v1h-1zM5 5h2v1h-2zM5 6h1v1h-1zM3 7h7v1h-7zM0 8h4v1h-4zM9 8h1v3h-1zM3 9h1v2h-1zM3 11h7v1h-7z"/><path id="g79f0" d="M3 1h2v1h-2zM6 1h1v2h-1zM0 2h3v1h-3zM2 3h1v1h-1zM5 3h6v1h-6zM0 4h5v1h-5zM7 4h1v7h-1zM10 4h1v1h-1zM2 5h1v1h-1zM1 6h3v1h-3zM5 6h1v2h-1zM9 6h1v2h-1zM1 7h2v1h-2zM0 8h1v1h-1zM2 8h1v1h-1zM4 8h1v1h-1zM10 8h1v2h-1zM2 9h2v1h-2zM2 10h1v2h-1zM6 11h2v1h-2z"/><path id="g5168" d="M5 1h1v1h-1zM4 2h1v1h-1zM6 2h1v1h-1zM3 3h1v1h-1zM7 3h1v1h-1zM2 4h1v1h-1zM8 4h1v1h-1zM0 5h2v1h-2zM3 5h5v1h-5zM9 5h2v1h-2zM5 6h1v2h-1zM3 8h5v1h-5zM5 9h1v2h-1zM1 11h9v1h-9z"/><path id="g90e8" d="M3 1h1v1h-1zM7 1h4v1h-4zM0 2h8v1h-8zM10 2h1v2h-1zM1 3h1v1h-1zM5 3h1v1h-1zM7 3h1v2h-1zM2 4h1v1h-1zM4 4h1v1h-1zM9 4h1v1h-1zM0 5h9v1h-9zM7 6h1v3h-1zM9 6h1v1h-1zM1 7h5v1h-5zM10 7h1v3h-1zM1 8h1v2h-1zM5 8h1v2h-1zM7 9h2v1h-2zM1 10h5v1h-5zM7 10h1v2h-1zM9 10h1v1h-1zM1 11h1v1h-1zM5 11h1v1h-1z"/><path id="g8bd5" d="M1 1h1v1h-1zM7 1h1v2h-1zM9 1h1v1h-1zM2 2h1v1h-1zM10 2h1v1h-1zM3 3h8v1h-8zM7 4h1v1h-1zM0 5h3v1h-3zM4 5h4v1h-4zM2 6h1v4h-1zM5 6h1v3h-1zM7 6h1v2h-1zM8 8h1v2h-1zM10 8h1v2h-1zM5 9h2v1h-2zM2 10h3v1h-3zM9 10h2v1h-2zM2 11h1v1h-1zM10 11h1v1h-1z"/><path id="g5929" d="M1 1h9v1h-9zM5 2h1v3h-1zM0 5h11v1h-11zM5 6h1v1h-1zM4 7h1v2h-1zM6 7h1v2h-1zM3 9h1v1h-1zM7 9h1v1h-1zM2 10h1v1h-1zM8 10h1v1h-1zM0 11h2v1h-2zM9 11h2v1h-2z"/><path id="g37" d="M0 3h5v1h-5zM4 4h1v2h-1zM3 6h1v2h-1zM2 8h1v3h-1z"/><path id="g4e2a" d="M5 1h1v2h-1zM4 3h1v1h-1zM6 3h1v1h-1zM3 4h1v1h-1zM7 4h1v1h-1zM2 5h1v1h-1zM5 5h1v7h-1zM8 5h1v1h-1zM1 6h1v1h-1zM9 6h2v1h-2z"/><path id="g4ee4" d="M5 1h1v2h-1zM4 3h1v1h-1zM6 3h1v1h-1zM3 4h1v1h-1zM7 4h1v1h-1zM2 5h1v1h-1zM5 5h1v1h-1zM8 5h1v1h-1zM0 6h2v1h-2zM6 6h1v1h-1zM9 6h2v1h-2zM2 7h7v1h-7zM7 8h1v1h-1zM4 9h1v1h-1zM6 9h1v1h-1zM5 10h1v1h-1zM6 11h1v1h-1z"/><path id="g603b" d="M3 1h1v1h-1zM7 1h1v1h-1zM4 2h1v1h-1zM6 2h1v1h-1zM2 3h7v1h-7zM2 4h1v2h-1zM8 4h1v2h-1zM2 6h7v1h-7zM2 7h1v1h-1zM8 7h1v1h-1zM5 8h1v1h-1zM9 8h1v1h-1zM1 9h1v2h-1zM3 9h1v2h-1zM6 9h1v1h-1zM8 9h1v2h-1zM10 9h1v2h-1zM0 11h1v1h-1zM4 11h5v1h-5z"/><path id="g6d88" d="M1 1h1v1h-1zM4 1h1v1h-1zM7 1h1v3h-1zM10 1h1v1h-1zM2 2h1v1h-1zM5 2h1v1h-1zM9 2h1v1h-1zM0 3h1v1h-1zM1 4h1v1h-1zM3 4h1v2h-1zM5 4h6v1h-6zM5 5h1v1h-1zM10 5h1v1h-1zM2 6h1v2h-1zM5 6h6v1h-6zM5 7h1v1h-1zM10 7h1v1h-1zM0 8h2v1h-2zM5 8h6v1h-6zM1 9h1v3h-1zM5 9h1v3h-1zM10 9h1v2h-1zM9 11h2v1h-2z"/><path id="g5931" d="M2 1h1v2h-1zM5 1h1v2h-1zM2 3h8v1h-8zM1 4h1v1h-1zM5 4h1v2h-1zM0 6h11v1h-11zM5 7h1v1h-1zM4 8h1v1h-1zM6 8h1v1h-1zM3 9h1v1h-1zM7 9h1v1h-1zM2 10h1v1h-1zM8 10h1v1h-1zM0 11h2v1h-2zM9 11h2v1h-2z"/><path id="g6b21" d="M1 1h1v1h-1zM6 1h1v2h-1zM2 2h1v2h-1zM5 3h6v1h-6zM5 4h1v1h-1zM9 4h1v1h-1zM2 5h1v2h-1zM4 5h1v1h-1zM7 5h1v3h-1zM0 7h2v1h-2zM1 8h1v3h-1zM6 8h1v2h-1zM8 8h1v2h-1zM5 10h1v1h-1zM9 10h1v1h-1zM3 11h2v1h-2zM10 11h1v1h-1z"/><path id="g6700" d="M2 1h7v1h-7zM2 2h1v1h-1zM8 2h1v1h-1zM2 3h7v1h-7zM2 4h1v1h-1zM8 4h1v1h-1zM0 5h11v1h-11zM1 6h1v1h-1zM4 6h1v1h-1zM1 7h9v1h-9zM1 8h1v1h-1zM4 8h1v1h-1zM6 8h1v1h-1zM9 8h1v1h-1zM1 9h4v1h-4zM7 9h2v2h-2zM0 10h2v1h-2zM4 10h1v1h-1zM4 11h3v1h-3zM9 11h2v1h-2z"/><path id="g7ec8" d="M2 1h1v2h-1zM6 1h1v1h-1zM6 2h4v1h-4zM1 3h1v1h-1zM3 3h1v1h-1zM5 3h1v1h-1zM9 3h1v1h-1zM0 4h3v1h-3zM4 4h1v1h-1zM6 4h1v1h-1zM8 4h1v1h-1zM2 5h1v1h-1zM7 5h1v1h-1zM1 6h1v1h-1zM6 6h1v1h-1zM8 6h1v1h-1zM0 7h3v1h-3zM4 7h2v1h-2zM9 7h2v1h-2zM7 8h1v1h-1zM2 9h2v1h-2zM8 9h2v1h-2zM0 10h2v1h-2zM6 10h2v1h-2zM8 11h2v1h-2z"/><path id="g6743" d="M2 1h1v2h-1zM4 2h6v1h-6zM0 3h4v1h-4zM5 3h1v3h-1zM9 3h1v3h-1zM2 4h1v2h-1zM1 6h3v1h-3zM6 6h1v2h-1zM8 6h1v2h-1zM1 7h2v1h-2zM4 7h1v1h-1zM0 8h1v1h-1zM2 8h1v4h-1zM7 8h1v1h-1zM6 9h1v1h-1zM8 9h1v1h-1zM5 10h1v1h-1zM9 10h1v1h-1zM4 11h1v1h-1zM10 11h1v1h-1z"/><path id="g76ca" d="M2 1h1v1h-1zM8 1h1v1h-1zM3 2h1v1h-1zM7 2h1v1h-1zM0 3h11v1h-11zM3 4h1v1h-1zM7 4h1v1h-1zM2 5h1v1h-1zM8 5h1v1h-1zM1 6h1v1h-1zM9 6h1v1h-1zM0 7h1v1h-1zM2 7h7v1h-7zM10 7h1v1h-1zM2 8h1v3h-1zM4 8h1v3h-1zM6 8h1v3h-1zM8 8h1v3h-1zM0 11h11v1h-11z"/><path id="g7a7a" d="M5 1h1v1h-1zM1 2h10v1h-10zM1 3h1v1h-1zM10 3h1v1h-1zM0 4h1v1h-1zM4 4h1v1h-1zM7 4h1v1h-1zM3 5h1v1h-1zM8 5h1v1h-1zM1 6h2v1h-2zM9 6h1v1h-1zM3 7h6v1h-6zM5 8h1v3h-1zM1 11h10v1h-10z"/><path id="g957f" d="M3 1h1v4h-1zM8 1h1v1h-1zM7 2h1v1h-1zM6 3h1v1h-1zM5 4h1v1h-1zM3 5h2v1h-2zM1 6h10v1h-10zM3 7h1v4h-1zM5 7h1v1h-1zM6 8h1v1h-1zM7 9h1v1h-1zM5 10h1v1h-1zM8 10h1v1h-1zM3 11h2v1h-2zM9 11h2v1h-2z"/><path id="g8fde" d="M1 1h1v1h-1zM6 1h1v1h-1zM2 2h1v2h-1zM4 2h7v1h-7zM6 3h1v1h-1zM5 4h1v1h-1zM7 4h1v1h-1zM0 5h3v1h-3zM4 5h6v1h-6zM2 6h1v4h-1zM7 6h1v1h-1zM4 7h7v1h-7zM7 8h1v3h-1zM1 10h1v1h-1zM3 10h1v1h-1zM0 11h1v1h-1zM4 11h7v1h-7z"/><path id="g6807" d="M2 1h1v2h-1zM5 1h5v1h-5zM0 3h5v1h-5zM2 4h1v2h-1zM4 4h7v1h-7zM7 5h1v6h-1zM1 6h3v1h-3zM1 7h2v1h-2zM5 7h1v2h-1zM9 7h1v1h-1zM0 8h1v1h-1zM2 8h1v4h-1zM10 8h1v2h-1zM4 9h1v1h-1zM6 11h2v1h-2z"/><path id="g51c6" d="M4 1h1v2h-1zM6 1h1v1h-1zM0 2h1v1h-1zM7 2h1v1h-1zM1 3h1v2h-1zM4 3h7v1h-7zM3 4h2v1h-2zM7 4h1v2h-1zM4 5h1v1h-1zM2 6h1v2h-1zM4 6h6v1h-6zM4 7h1v1h-1zM7 7h1v1h-1zM0 8h2v1h-2zM4 8h6v1h-6zM1 9h1v3h-1zM4 9h1v2h-1zM7 9h1v2h-1zM4 11h7v1h-7z"/><path id="g79bb" d="M5 1h1v1h-1zM0 2h11v1h-11zM2 3h1v3h-1zM4 3h1v1h-1zM6 3h1v1h-1zM8 3h1v3h-1zM5 4h1v1h-1zM4 5h1v1h-1zM6 5h1v1h-1zM2 6h7v1h-7zM5 7h1v1h-1zM1 8h9v1h-9zM1 9h1v3h-1zM4 9h1v1h-1zM7 9h1v1h-1zM9 9h1v2h-1zM3 10h5v1h-5zM8 11h2v1h-2z"/><path id="g5dee" d="M3 1h1v1h-1zM8 1h1v1h-1zM4 2h1v1h-1zM7 2h1v1h-1zM0 3h11v1h-11zM5 4h1v1h-1zM1 5h9v1h-9zM4 6h1v1h-1zM0 7h11v1h-11zM3 8h1v1h-1zM2 9h1v1h-1zM4 9h5v1h-5zM1 10h1v1h-1zM6 10h1v1h-1zM0 11h1v1h-1zM2 11h9v1h-9z"/><path id="g7387" d="M5 1h1v1h-1zM0 2h11v1h-11zM0 3h1v1h-1zM4 3h1v1h-1zM9 3h1v1h-1zM1 4h1v1h-1zM3 4h1v1h-1zM6 4h1v1h-1zM8 4h1v1h-1zM4 5h2v1h-2zM2 6h1v1h-1zM4 6h1v1h-1zM6 6h1v1h-1zM8 6h1v1h-1zM0 7h2v1h-2zM3 7h5v1h-5zM9 7h1v1h-1zM5 8h1v1h-1zM0 9h11v1h-11zM5 10h1v2h-1z"/><path id="g590f" d="M0 1h11v1h-11zM5 2h1v1h-1zM3 3h6v1h-6zM3 4h1v1h-1zM8 4h1v2h-1zM3 5h3v1h-3zM3 6h1v2h-1zM5 6h4v1h-4zM8 7h1v1h-1zM2 8h7v1h-7zM1 9h1v1h-1zM4 9h1v1h-1zM7 9h1v1h-1zM0 10h1v1h-1zM5 10h2v1h-2zM2 11h3v1h-3zM7 11h4v1h-4z"/><path id="g666e" d="M3 1h1v1h-1zM7 1h1v1h-1zM1 2h9v1h-9zM1 3h1v1h-1zM4 3h1v2h-1zM6 3h1v2h-1zM9 3h1v1h-1zM2 4h1v1h-1zM8 4h1v1h-1zM0 5h11v1h-11zM2 7h7v1h-7zM2 8h1v1h-1zM8 8h1v1h-1zM2 9h7v1h-7zM2 10h1v1h-1zM8 10h1v1h-1zM2 11h7v1h-7z"/><path id="g76c8" d="M1 1h8v1h-8zM3 2h1v2h-1zM8 2h1v1h-1zM5 3h6v1h-6zM3 4h2v1h-2zM7 4h1v1h-1zM10 4h1v2h-1zM2 5h1v1h-1zM5 5h2v1h-2zM1 6h1v1h-1zM4 6h1v1h-1zM7 6h1v1h-1zM9 6h1v1h-1zM0 7h1v1h-1zM2 7h8v1h-8zM2 8h1v3h-1zM4 8h1v3h-1zM7 8h1v3h-1zM9 8h1v3h-1zM0 11h11v1h-11z"/><path id="g4e8f" d="M2 1h7v1h-7zM0 4h11v1h-11zM4 5h1v1h-1zM3 6h1v1h-1zM2 7h8v1h-8zM9 8h1v2h-1zM5 10h1v1h-1zM8 10h1v1h-1zM6 11h2v1h-2z"/><path id="g5e73" d="M1 1h9v1h-9zM5 2h1v4h-1zM2 3h1v1h-1zM8 3h1v1h-1zM3 4h1v1h-1zM7 4h1v1h-1zM0 6h11v1h-11zM5 7h1v5h-1z"/><path id="g5747" d="M2 1h1v3h-1zM6 1h1v2h-1zM5 3h6v1h-6zM0 4h4v1h-4zM10 4h1v7h-1zM2 5h1v3h-1zM5 5h1v1h-1zM6 6h1v1h-1zM4 7h1v1h-1zM8 7h1v1h-1zM2 8h2v1h-2zM7 8h1v1h-1zM0 9h2v1h-2zM5 9h2v1h-2zM8 11h2v1h-2z"/><path id="g635f" d="M2 1h1v2h-1zM6 1h4v1h-4zM6 2h1v1h-1zM9 2h1v1h-1zM0 3h5v1h-5zM6 3h4v1h-4zM2 4h1v2h-1zM4 5h7v1h-7zM2 6h2v1h-2zM5 6h1v4h-1zM10 6h1v4h-1zM1 7h2v1h-2zM7 7h1v3h-1zM0 8h1v1h-1zM2 8h1v3h-1zM6 10h1v1h-1zM8 10h1v1h-1zM0 11h3v1h-3zM4 11h2v1h-2zM9 11h2v1h-2z"/><path id="g5927" d="M5 1h1v3h-1zM0 4h11v1h-11zM5 5h1v2h-1zM4 7h1v2h-1zM6 7h1v2h-1zM3 9h1v1h-1zM7 9h1v1h-1zM2 10h1v1h-1zM8 10h1v1h-1zM0 11h2v1h-2zM9 11h2v1h-2z"/><path id="g64a4" d="M1 1h1v2h-1zM5 1h1v1h-1zM8 1h1v1h-1zM3 2h6v1h-6zM0 3h3v1h-3zM4 3h1v1h-1zM6 3h1v1h-1zM8 3h3v1h-3zM1 4h1v3h-1zM3 4h3v1h-3zM7 4h2v1h-2zM10 4h1v5h-1zM3 5h1v1h-1zM6 5h1v1h-1zM8 5h1v4h-1zM3 6h4v1h-4zM0 7h2v1h-2zM3 7h1v1h-1zM6 7h1v1h-1zM1 8h1v3h-1zM3 8h4v1h-4zM3 9h1v3h-1zM6 9h1v2h-1zM9 9h1v1h-1zM8 10h1v1h-1zM10 10h1v2h-1zM0 11h2v1h-2zM5 11h3v1h-3z"/><path id="g672a" d="M5 1h1v2h-1zM1 3h9v1h-9zM5 4h1v1h-1zM0 5h11v1h-11zM5 6h1v1h-1zM4 7h3v1h-3zM3 8h1v1h-1zM5 8h1v4h-1zM7 8h1v1h-1zM2 9h1v1h-1zM8 9h1v1h-1zM0 10h2v1h-2zM9 10h2v1h-2z"/><path id="g521b" d="M3 1h1v1h-1zM10 1h1v10h-1zM3 2h2v1h-2zM2 3h1v1h-1zM5 3h1v1h-1zM8 3h1v6h-1zM1 4h1v1h-1zM6 4h1v1h-1zM0 5h1v1h-1zM2 5h4v1h-4zM2 6h1v2h-1zM5 6h1v2h-1zM2 8h3v1h-3zM2 9h1v2h-1zM6 9h1v2h-1zM3 11h4v1h-4zM9 11h2v1h-2z"/><path id="g65b0" d="M3 1h1v1h-1zM9 1h2v1h-2zM0 2h6v1h-6zM7 2h2v1h-2zM1 3h1v1h-1zM5 3h1v1h-1zM7 3h1v2h-1zM2 4h1v1h-1zM4 4h1v1h-1zM0 5h6v1h-6zM7 5h4v1h-4zM3 6h1v1h-1zM7 6h1v4h-1zM9 6h1v6h-1zM0 7h6v1h-6zM3 8h1v3h-1zM1 9h1v1h-1zM5 9h1v1h-1zM0 10h1v1h-1zM6 10h1v1h-1zM2 11h2v1h-2zM5 11h1v1h-1z"/><path id="g9ad8" d="M5 1h1v1h-1zM0 2h11v1h-11zM3 4h5v1h-5zM3 5h1v1h-1zM7 5h1v1h-1zM1 6h9v1h-9zM1 7h1v5h-1zM9 7h1v4h-1zM3 8h5v1h-5zM3 9h1v1h-1zM7 9h1v1h-1zM3 10h5v1h-5zM8 11h2v1h-2z"/><path id="g6bb5" d="M3 1h2v1h-2zM6 1h3v1h-3zM1 2h2v1h-2zM6 2h1v2h-1zM8 2h1v2h-1zM1 3h1v1h-1zM1 4h3v1h-3zM5 4h1v1h-1zM8 4h3v1h-3zM1 5h1v1h-1zM1 6h3v1h-3zM5 6h5v1h-5zM1 7h1v2h-1zM5 7h1v1h-1zM9 7h1v1h-1zM6 8h1v1h-1zM8 8h1v1h-1zM0 9h4v1h-4zM7 9h1v1h-1zM1 10h1v2h-1zM6 10h1v1h-1zM8 10h1v1h-1zM4 11h2v1h-2zM9 11h2v1h-2z"/></defs></svg>
<svg id="chart" width="752" height="651" viewBox="0 0 752 651">
<rect x="84" y="39" width="637" height="562" fill="#f4f4f4"/>
<g shape-rendering="crispEdges" fill="none" stroke-width="1">
<path d="M84 38.5H722" stroke="#c8c8c8" stroke-dasharray="3 3"/>
<path d="M84 150.5H722" stroke="#fff"/>
<path d="M84 150.5H722" stroke="#c8c8c8" stroke-dasharray="3 3"/>
<path d="M84 263.5H722" stroke="#fff"/>
<path d="M84 263.5H722" stroke="#c8c8c8" stroke-dasharray="3 3"/>
<path d="M84 375.5H722" stroke="#fff"/>
<path d="M84 375.5H722" stroke="#c8c8c8" stroke-dasharray="3 3"/>
<path d="M84 488.5H722" stroke="#fff"/>
<path d="M84 488.5H722" stroke="#c8c8c8" stroke-dasharray="3 3"/>
<path d="M83 602.5H722" stroke="#c8c8c8" stroke-dasharray="3 3"/>
<path d="M83.5 38V603" stroke="#c8c8c8" stroke-dasharray="3 3"/>
<path d="M147.5 39V602" stroke="#fff"/>
<path d="M147.5 41V602" stroke="#c8c8c8" stroke-dasharray="3 3"/>
<path d="M211.5 39V602" stroke="#fff"/>
<path d="M211.5 41V602" stroke="#c8c8c8" stroke-dasharray="3 3"/>
<path d="M274.5 39V602" stroke="#fff"/>
<path d="M274.5 41V602" stroke="#c8c8c8" stroke-dasharray="3 3"/>
<path d="M338.5 39V602" stroke="#fff"/>
<path d="M338.5 41V602" stroke="#c8c8c8" stroke-dasharray="3 3"/>
<path d="M401.5 39V602" stroke="#fff"/>
<path d="M401.5 41V602" stroke="#c8c8c8" stroke-dasharray="3 3"/>
<path d="M465.5 39V602" stroke="#fff"/>
<path d="M465.5 41V602" stroke="#c8c8c8" stroke-dasharray="3 3"/>
<path d="M528.5 39V602" stroke="#fff"/>
<path d="M528.5 41V602" stroke="#c8c8c8" stroke-dasharray="3 3"/>
<path d="M592.5 39V602" stroke="#fff"/>
<path d="M592.5 41V602" stroke="#c8c8c8" stroke-dasharray="3 3"/>
<path d="M655.5 39V602" stroke="#fff"/>
<path d="M655.5 41V602" stroke="#c8c8c8" stroke-dasharray="3 3"/>
<path d="M722.5 41V603" stroke="#c8c8c8" stroke-dasharray="3 3"/>
</g>
<path id="curve" d="M83.8 578.6 85.2 582 86.7 579.5 88 576.7 88.1 566.7 89 563.8 91.4 568.6 92.9 568 94.3 561 96.2 563.3 99.5 561 100.5 558.6 101 545.2 104 546.7 105.3 540 105.7 533 108 538 109 526.7 111 548 112.9 531.4 114.3 548 116.2 525.7 116.7 523 118.6 524.3 119.5 517.6 121 518.6 120.5 512.4 122.9 511.4 124.3 504.8 126.2 507.6 125.7 496.4 127.1 488.3 128.6 481.2 129 497.4 131 481 131.2 460 131.8 437.5 132.3 459 132.8 436.3 133.3 459.5 133.8 436.5 134.2 473.6 134.7 437.5 135.2 470 135.6 448.4 136.2 469 136.9 449 137.4 469 138 456 138.5 469.3 139.2 456 139.8 469 140.2 443.2 140.8 469 141.3 443.2 141.9 469.5 142.4 443.2 142.9 472 144.3 474.5 144.8 481.2 145.7 491.7 146.7 476.4 147.1 467.4 148.6 468.3 149 481.5 150.5 480.2 151.4 475.5 151.9 461.7 152.4 473 153.3 462.1 153.8 471.7 154.8 468.5 155.7 467.9 155.7 451.2 156.4 461 157.1 452.1 157.6 461 158.1 460.2 158.8 455 159.5 453.6 160 461 160.6 450.5 161 450.2 161.4 462 161.9 461.2 162.9 468.3 163.6 460 164.3 466 164.3 452.6 165 461 165.7 452.6 166.2 462.1 167.6 465 168.1 473.6 168.8 462 169.5 474 170.5 474.5 171 467.9 171.5 461 172.2 468 172.9 461.2 173.5 468 174.2 460 174.9 459.2 175.2 468 175.7 467.9 176.7 469.8 176.7 487.9 177.6 474.5 178.6 470.7 179.5 475.5 180.3 470.7 181 475 181 450.2 180.5 439.3 181.3 450.2 182 438.8 182.6 450.2 183.3 438.3 183.8 448 184.5 439.3 185 445 185.6 440 186.2 442.1 186.7 433.6 187.2 441.5 187.6 428.3 188.2 442 188.8 428.8 189.5 429.3 189.5 443.1 190 449.8 190.7 444 191.4 445 191.8 450 192.4 445.5 192.4 461.2 193.8 463.1 194.3 472.6 194.3 485 195.7 496.4 198.1 501.7 199.3 484.8 200.2 477.6 202.1 478 203.1 484.3 204.5 485.2 205 489.5 206.4 490.5 207.4 511.4 208.3 517.6 209.8 505.7 211.2 490.5 212.6 489.5 212.6 471.9 214 472.4 215.5 476.2 217.4 478.1 217.9 487.6 219.8 492.4 221.2 496.2 223.1 496.7 223.6 489.5 225 490.5 225.5 501.4 226.9 492.4 226.9 481.4 228.8 481.9 229.3 491 230.2 479 231.7 479 232.6 487.6 233.6 498.1 235.5 497.6 236 483.3 236.9 483.8 237.4 495.2 238.3 495.7 238.8 477.6 240.2 478.1 241.2 486.7 241.7 494.3 242.6 486.7 243.4 484 244 461.4 244.2 461.4 244.7 482.9 246.4 484.8 246.9 512.4 247.4 537.6 248.8 538.6 248.8 596 250.3 576 251 598 252.1 602 253 582 253.6 597 255 582 256 588 256 555.2 256.9 554.3 256.9 509.5 258.3 491.4 258.8 476.2 259.6 497 260.2 477 260.7 477.6 260.7 497.1 259.8 503.8 261.2 523.3 263.1 518.1 264.5 517.1 264 495.7 265.5 492.4 266 485.2 267.4 485.7 266.9 502.4 269.3 499 269.3 462 268.3 456.2 271.2 456 270.7 434.3 272.1 433.3 272.1 424.3 273.1 423.3 273.1 402 272.6 395.2 274.5 394.3 275 386.7 276.4 385.7 276.4 374.3 277 388 277.7 373.5 278.3 390 279 374 279.8 376.2 280.2 394.3 281.2 378.1 281.7 349 282.6 349.5 283.1 357.6 284 365.2 285 371.4 285 419.5 286 420.5 286 439.5 287.9 429.5 288.8 437.6 291.2 433.3 291.2 413.3 292.6 412.4 292.1 406.2 293.6 405.2 293.1 397.1 294 396.7 294 378.1 295 374.8 296 374.3 296 387.1 296.9 353.3 298.3 354.3 298.8 379 299.8 388.6 300.7 378.1 301.2 367.6 301.7 359.5 303.6 360.5 304 377.1 306 373.3 306.4 348.6 306.7 325.5 307.5 332.5 308.2 326 308.8 332.5 309.5 327.7 310 333.6 310.3 346.7 312.2 342 312.6 331.7 313.2 343.5 313.8 331.5 314.4 354.3 315 327 315.5 353.5 315.9 331 316.4 343.5 317 331.5 317.5 342 318.1 332 318.4 338.3 318.8 331.7 319 301.2 320.5 300.2 320 288.3 319.5 277.4 320.5 270.2 320.8 288 321.5 270.8 322.2 288 323 271.5 323.6 285.5 324.3 272.5 325 283 325.2 273.6 325.7 282.1 327.1 285 327.1 302.6 328.1 308.8 328.6 320.7 329.2 303 329.8 320 330.5 319.3 331 298.3 331.9 297.4 331.4 282.1 333.3 283.1 334.3 294.5 334.8 309.8 337.1 315.5 337.6 328.8 338.3 342 339 329 339.5 342.6 340.2 330 340.5 342.1 341.4 336.4 341.9 327.9 341.9 313.6 343.3 312 343.3 280.2 344.2 309 345 281 345.7 281.7 345.9 309.5 346.7 292 347.4 309.5 348.1 292 348.8 309.5 349.5 292.5 349.5 315.5 350.3 311.7 351 290 351.6 309.8 352.3 288 352.9 309.8 352.9 284 353.3 269.3 354 284 354.8 266.9 355.4 284 356.2 273.6 356.6 286 357.1 282.1 356.7 291.7 357.6 300.7 358.2 292 358.9 300 359.5 292.5 360 299 360.5 294 361.4 292.6 361 273.1 361.9 272.1 361.9 265 362.9 264 362.4 247.4 363.3 247.4 363.8 257.4 366.2 256.4 366.7 252.6 365.7 248.3 366.7 241.2 368.1 241.2 368.6 249.8 369.5 248.3 369 227 368.6 219.3 370.5 220.2 371 228.8 372.4 231.7 372.4 236 373.8 236.4 373.8 244.5 376.2 242.6 376.7 236.4 377.6 236 377.6 227 376.7 212.1 377.6 211.7 377.6 204 378.6 201.2 379.5 199.3 379.5 184 381.4 185 381.9 193.6 382.9 199.3 382.4 208.3 383.3 200 384 208.3 384.8 208.3 385.2 203.1 384.8 180.2 385.5 200 386.2 179.3 386.7 170.2 387.3 188 387.9 170.8 388.5 188.8 389 171.7 389.5 188.8 389.5 208.8 391 210.7 392.4 208.8 391.9 189.8 391.4 176.4 392.2 189 393 177 393.8 177.4 394.3 187.9 395.7 190.7 396.2 200.2 397.6 202.1 397.6 213.6 398.6 186.4 400 207 401 195.5 402.4 205 403.3 201.2 403.5 167 402.9 146 403.8 132.6 404.5 148.5 405.2 133 405.4 148.3 406.5 133.5 407.6 143.1 407.1 126.4 408.1 125.5 408.1 119.3 409.2 118.5 409 109.5 410 108.6 410 94.3 411 93.3 411 65.7 411.9 62.4 412.4 74.3 413.5 62.4 413.8 71 414.5 62.6 414.8 85.7 417.1 81.9 417.6 63.3 416.7 38.6 418 47 418.5 38.8 419.5 39 420 47.6 421.4 50 421.4 68.1 422.6 68.6 422.6 81 423.5 81.6 423 101.9 425.2 102.4 425.2 115.4 426.6 116.3 426.7 129.3 428.6 129.8 428.6 136 427.6 136.4 429 151.7 431 148.8 430 137.4 431.9 138.3 432.9 141.7 433.8 148.3 433.8 163.6 435.7 162.1 435.7 126.9 437.1 128.8 438.6 129.8 439 136 438.6 161.7 440.5 160.7 440.5 119.3 441.5 149.5 442.9 119.8 443.3 148.3 444.8 144 444.3 122 443.8 83.3 445.7 82.9 446.2 78.1 447.1 75.2 448.3 74 447.6 44.3 449.3 44.8 449.8 50.5 450.6 58.6 452.5 59.5 451.5 51.4 452 44.3 452.8 58 453.6 44.5 454.8 45.2 454.8 62.4 455.5 62.9 455.5 77.6 456.7 78.6 457.1 82.4 456 96 458.6 83.3 458 96.7 459.5 90.5 460 97.6 462.4 98.6 462.9 105.2 463.3 119.5 464.3 131.4 465.2 132.9 464.8 156.7 465.8 150.5 466.7 158.6 467.6 161.9 468.2 150 469 148.1 469.5 158 470.5 149 471.4 154.8 471.4 172.6 473.3 171.7 473.8 148.1 474.3 141 475.7 141.4 476.2 148.1 475.7 173.1 477.1 180.7 478.6 180.2 478.6 159.5 479 138.6 480.5 135.7 481 129 481.4 123.3 482 133 482.6 123.3 483.3 134 483.9 124 484.8 125.7 484.8 135.7 485.7 137.6 485.7 146.7 486.7 146.7 487.1 137.6 487.6 130 489.5 131.4 490 141 488.6 151.9 490.5 150 491.4 141.9 492.9 142.9 493.3 151.9 494.3 153.3 494.8 145.2 496.7 146.2 496.7 159.5 497.6 160.5 497.6 164.3 498.6 164.8 498.1 177.4 499.5 178.8 500 188.8 501 190.7 502.4 189.3 502.9 184.5 502.4 174.5 503.8 174.5 504.3 179.8 505.7 180.7 506.7 183.6 506.7 191.7 507.6 192.1 507.6 201.7 509.5 201.2 509.5 194 508.6 191.2 511 191.7 511.4 200.2 513.8 199.8 514.3 191.2 514.8 192.6 515.2 200.7 516.2 204.5 517.1 206.4 517.6 212.1 519 213.1 519 217.9 521 220.2 522.9 222.6 522.9 230.2 524.3 230.7 524.8 238.3 526.2 237.4 526.2 228.3 525.7 207.4 527.6 208.8 528.1 214 530.5 215 531 227.4 532.4 226.4 532.4 198.8 532.9 197.9 532.9 181.7 533.8 180.7 533.8 169.3 535.2 169.3 535.7 173.6 537.6 172.6 538.1 169.8 538.1 147.1 539 146.2 539 140.5 540.5 139.5 540.3 117 540 93.1 541 87.9 542.4 87.4 542.4 95.5 543.8 93.1 543.8 68.3 544.4 78 545 68.5 545.7 78 546.3 70.7 546.7 77.9 547.1 86.4 547.8 78.3 548.5 86.5 549.2 78.3 549.9 86.8 550.5 80.2 551 87.9 550.8 98.3 551.5 91.5 552.2 98.5 552.9 92.5 553.6 98.8 554.3 93.6 554.8 99.8 554 106.4 554.9 100.5 555.7 108 556.4 103.3 557 109 557.6 103.6 558 109.3 558 118.1 559.4 119.5 559.7 138.1 561.7 137.1 563.1 139.5 563.1 152.4 564 159.5 565.5 157.6 565.5 143.3 567.4 144.3 567.9 154.8 568.8 163.3 570.2 161.4 570.2 151 571.7 151.4 572.6 156.7 573.1 163.3 573.3 171.4 574.3 178.1 575.2 179.5 575.7 189.5 577.1 188.6 577.5 178.1 577.4 165.2 579.3 164.8 579.3 161.4 580.7 161.4 580.9 166.7 581.4 172.4 582.9 171.4 582.9 167.1 584.3 166.7 584.8 161.9 585.5 158.5 586 157.1 586.4 161.9 586.9 155.7 586.9 148.1 587.4 145.2 588.8 145.2 589.3 149 590.7 151 590.5 161.9 589.3 162 589.5 171.4 590.2 162 590.9 171.2 591.6 161.6 592.3 171 592.9 162.9 593.6 162.9 593.8 164.8 594.3 173.8 595.7 175.2 595.7 183.8 596.7 187.1 598.1 188.6 598.6 204.3 599.4 190 600.2 204 601 203.3 601.4 193.3 601.9 184.8 602.9 175.7 603.6 186 604.3 176 604.8 176.2 605.7 183.8 606.2 192.4 606.7 201.4 607.6 193 608.6 200 609 192.4 610 189.5 609.5 176.7 611 176.7 611.9 179 613.3 181.4 613.3 187.6 616.2 189.5 617.1 193.3 619 192.4 620 185.7 619.3 164.3 620.7 160 621.2 168 622.1 161 623 168.3 624 161.2 625 168.5 626 161.4 625.7 174.3 626.9 164.3 628.1 173.8 628.8 168.1 628.1 184.8 630 187.6 630 201.9 630.8 202.5 630.7 220.6 632.4 219.4 632.9 213 634.5 211.5 634.3 186.7 634.8 167.1 635.6 186 636.4 168.1 637.1 181.9 638.1 182.9 637.6 195.7 637.6 205.7 639.5 198.1 639.5 216.4 640.5 200.5 641.4 208.6 641.9 216.4 642.4 210.5 642.9 219.8 643.8 220.7 643.3 240.7 645.7 239.8 645.7 227.9 646.7 227.4 646.7 215 645.7 207.4 646.7 204 648.6 205 648.6 221.7 651.4 219.8 651 197.4 651.9 196.4 651.9 186 653.3 185 654.3 188.8 654.8 193.6 657.1 191.7 656.7 184 658.6 183.1 659.5 188.8 659.5 173.6 660.5 172.6 661 167.4 661.2 167.4 661.7 173.1 663.3 173.6 663.8 189.8 664.3 176.4 665.2 188.8 667.1 178.3 667.6 183.1 668.6 184 668.6 200.7 669.5 186 670.5 201.2 671.4 185.5 671.4 201.2 671.9 204.5 673.3 207.4 673.8 213 674.6 209.5 675.2 216.5 676 211 676.7 220.7 677.5 211.5 678.2 221.5 679 212 679.5 222.1 680.3 213 681 221.7 681 214 681.4 202.6 682.4 213.6 683.3 217.9 683.8 205 684.8 217.9 685.2 206.4 684.8 191.7 685.7 186 686.2 196 686.9 185.8 687.6 196 688.3 185.5 689 196 689.5 200.7 690 186.9 690.6 197 691 200.2 691.4 188 692 195.8 692.6 188.5 692.9 189.8 693.8 188.8 693.3 170.2 694.3 169.3 693.8 143.3 694.8 139 696.7 139 697.3 127.6 697.5 127.6 698.2 139 698.6 156.9 700 156.4 699.5 139.5 701.4 140 700.5 150.7 701.9 142.9 702.4 150.7 703.3 143.3 703.8 151.4 702.9 158.3 704.8 159.3 705.7 166.4 707.1 165.5 708.6 163.1 707.6 154 709.5 155 710 162.1 711.4 165.5 711.4 176.4 712.9 177.9 713.3 190.7 714.3 189.8 714.8 183.1 714.8 172.1 716.2 173.1 716.7 180.2 717.6 182.6 718.1 195.5 719.5 194.5 720 185 719.5 178.3 720.8 178.8 721.2 188.3" fill="none" stroke="#6363cb" stroke-width="2" stroke-linejoin="miter" stroke-miterlimit="2" shape-rendering="crispEdges"/>
</svg>
<div class="yl" style="top:31px">1194500</div>
<div class="yl" style="top:143px">944200</div>
<div class="yl" style="top:256px">693900</div>
<div class="yl" style="top:368px">443600</div>
<div class="yl" style="top:481px">193300</div>
<div class="yl" style="top:594px">-57000</div>
<div class="xl" style="left:84px">1</div>
<div class="xl" style="left:146px">95</div>
<div class="xl" style="left:210px">189</div>
<div class="xl" style="left:273px">283</div>
<div class="xl" style="left:337px">377</div>
<div class="xl" style="left:400px">471</div>
<div class="xl" style="left:464px">565</div>
<div class="xl" style="left:527px">659</div>
<div class="xl" style="left:591px">753</div>
<div class="xl" style="left:654px">847</div>
<div class="t" style="left:368px;top:8px"><svg class="c" width="70" height="13" viewBox="0 0 70 13" role="img" aria-label="损益曲线图"><use href="#g635fb13" x="0"/><use href="#g76cab13" x="14"/><use href="#g66f2b13" x="28"/><use href="#g7ebfb13" x="42"/><use href="#g56feb13" x="56"/></svg></div>
<div class="t" style="left:374px;top:629px"><svg class="c" width="56" height="13" viewBox="0 0 56 13" role="img" aria-label="交易次数"><use href="#g4ea4b13" x="0"/><use href="#g6613b13" x="14"/><use href="#g6b21b13" x="28"/><use href="#g6570b13" x="42"/></svg></div>
<div class="t" style="left:6px;top:292px;width:14px;line-height:0"><svg class="c" width="14" height="13" viewBox="0 0 14 13" role="img" aria-label="损"><use href="#g635fb13" x="0"/></svg><svg class="c" width="14" height="13" viewBox="0 0 14 13" role="img" aria-label="益"><use href="#g76cab13" x="0"/></svg></div>
<div id="side"><div id="split"></div><div id="pane"><i></i></div>
<div id="tab1"><span style="left:7px;top:5px"><svg class="c" width="48" height="12" viewBox="0 0 48 12" role="img" aria-label="回测报告"><use href="#g56de" x="0"/><use href="#g6d4b" x="12"/><use href="#g62a5" x="24"/><use href="#g544a" x="36"/></svg></span></div><div id="tab2"><span style="left:4px;top:5px"><svg class="c" width="48" height="12" viewBox="0 0 48 12" role="img" aria-label="资金曲线"><use href="#g8d44" x="0"/><use href="#g91d1" x="12"/><use href="#g66f2" x="24"/><use href="#g7ebf" x="36"/></svg></span></div>
<div id="list"></div></div>
<div class="r" style="top:39px"><span class="k"><svg class="c" width="72" height="13" viewBox="0 0 72 13" role="img" aria-label="报告生成时间"><use href="#g62a5" x="0"/><use href="#g544a" x="12"/><use href="#g751f" x="24"/><use href="#g6210" x="36"/><use href="#g65f6" x="48"/><use href="#g95f4" x="60"/></svg></span><span class="v"><svg class="c" width="114" height="13" viewBox="0 0 114 13" role="img" aria-label="2019/01/09 16:05:25"><use href="#g32" x="0" y="-1"/><use href="#g30" x="6" y="-1"/><use href="#g31" x="12" y="-1"/><use href="#g39" x="18" y="-1"/><use href="#g2f" x="24" y="-1"/><use href="#g30" x="30" y="-1"/><use href="#g31" x="36" y="-1"/><use href="#g2f" x="42" y="-1"/><use href="#g30" x="48" y="-1"/><use href="#g39" x="54" y="-1"/><use href="#g31" x="66" y="-1"/><use href="#g36" x="72" y="-1"/><use href="#g3a" x="80" y="-1"/><use href="#g30" x="84" y="-1"/><use href="#g35" x="90" y="-1"/><use href="#g3a" x="98" y="-1"/><use href="#g32" x="102" y="-1"/><use href="#g35" x="108" y="-1"/></svg></span></div>
<div class="r" style="top:55px"><span class="k"><svg class="c" width="60" height="13" viewBox="0 0 60 13" role="img" aria-label="资金分配量"><use href="#g8d44" x="0"/><use href="#g91d1" x="12"/><use href="#g5206" x="24"/><use href="#g914d" x="36"/><use href="#g91cf" x="48"/></svg></span><span class="v"><svg class="c" width="36" height="13" viewBox="0 0 36 13" role="img" aria-label="500000"><use href="#g35" x="0" y="-1"/><use href="#g30" x="6" y="-1"/><use href="#g30" x="12" y="-1"/><use href="#g30" x="18" y="-1"/><use href="#g30" x="24" y="-1"/><use href="#g30" x="30" y="-1"/></svg></span></div>
<div class="r" style="top:71px"><span class="k"><svg class="c" width="48" height="13" viewBox="0 0 48 13" role="img" aria-label="数据合约"><use href="#g6570" x="0"/><use href="#g636e" x="12"/><use href="#g5408" x="24"/><use href="#g7ea6" x="36"/></svg></span><span class="v"><svg class="c" width="48" height="13" viewBox="0 0 48 13" role="img" aria-label="螺纹指数"><use href="#g87ba" x="0"/><use href="#g7eb9" x="12"/><use href="#g6307" x="24"/><use href="#g6570" x="36"/></svg></span></div>
<div class="r" style="top:87px"><span class="k"><svg class="c" width="48" height="13" viewBox="0 0 48 13" role="img" aria-label="交易合约"><use href="#g4ea4" x="0"/><use href="#g6613" x="12"/><use href="#g5408" x="24"/><use href="#g7ea6" x="36"/></svg></span><span class="v"><svg class="c" width="48" height="13" viewBox="0 0 48 13" role="img" aria-label="螺纹指数"><use href="#g87ba" x="0"/><use href="#g7eb9" x="12"/><use href="#g6307" x="24"/><use href="#g6570" x="36"/></svg></span></div>
<div class="r" style="top:103px"><span class="k"><svg class="c" width="42" height="13" viewBox="0 0 42 13" role="img" aria-label="K线周期"><use href="#g4b" x="0" y="-1"/><use href="#g7ebf" x="6"/><use href="#g5468" x="18"/><use href="#g671f" x="30"/></svg></span><span class="v"><svg class="c" width="36" height="13" viewBox="0 0 36 13" role="img" aria-label="15分钟"><use href="#g31" x="0" y="-1"/><use href="#g35" x="6" y="-1"/><use href="#g5206" x="12"/><use href="#g949f" x="24"/></svg></span></div>
<div class="r" style="top:119px"><span class="k"><svg class="c" width="72" height="13" viewBox="0 0 72 13" role="img" aria-label="数据开始时间"><use href="#g6570" x="0"/><use href="#g636e" x="12"/><use href="#g5f00" x="24"/><use href="#g59cb" x="36"/><use href="#g65f6" x="48"/><use href="#g95f4" x="60"/></svg></span><span class="v"><svg class="c" width="48" height="13" viewBox="0 0 48 13" role="img" aria-label="2016-1-4"><use href="#g32" x="0" y="-1"/><use href="#g30" x="6" y="-1"/><use href="#g31" x="12" y="-1"/><use href="#g36" x="18" y="-1"/><use href="#g2d" x="24" y="-1"/><use href="#g31" x="30" y="-1"/><use href="#g2d" x="36" y="-1"/><use href="#g34" x="42" y="-1"/></svg></span></div>
<div class="r" style="top:135px"><span class="k"><svg class="c" width="72" height="13" viewBox="0 0 72 13" role="img" aria-label="数据结束时间"><use href="#g6570" x="0"/><use href="#g636e" x="12"/><use href="#g7ed3" x="24"/><use href="#g675f" x="36"/><use href="#g65f6" x="48"/><use href="#g95f4" x="60"/></svg></span><span class="v"><svg class="c" width="48" height="13" viewBox="0 0 48 13" role="img" aria-label="2019-1-9"><use href="#g32" x="0" y="-1"/><use href="#g30" x="6" y="-1"/><use href="#g31" x="12" y="-1"/><use href="#g39" x="18" y="-1"/><use href="#g2d" x="24" y="-1"/><use href="#g31" x="30" y="-1"/><use href="#g2d" x="36" y="-1"/><use href="#g39" x="42" y="-1"/></svg></span></div>
<div class="r" style="top:151px"><span class="k"><svg class="c" width="96" height="13" viewBox="0 0 96 13" role="img" aria-label="信号计算开始时间"><use href="#g4fe1" x="0"/><use href="#g53f7" x="12"/><use href="#g8ba1" x="24"/><use href="#g7b97" x="36"/><use href="#g5f00" x="48"/><use href="#g59cb" x="60"/><use href="#g65f6" x="72"/><use href="#g95f4" x="84"/></svg></span><span class="v"><svg class="c" width="48" height="13" viewBox="0 0 48 13" role="img" aria-label="2016-1-4"><use href="#g32" x="0" y="-1"/><use href="#g30" x="6" y="-1"/><use href="#g31" x="12" y="-1"/><use href="#g36" x="18" y="-1"/><use href="#g2d" x="24" y="-1"/><use href="#g31" x="30" y="-1"/><use href="#g2d" x="36" y="-1"/><use href="#g34" x="42" y="-1"/></svg></span></div>
<div class="r" style="top:167px"><span class="k"><svg class="c" width="96" height="13" viewBox="0 0 96 13" role="img" aria-label="信号计算结束时间"><use href="#g4fe1" x="0"/><use href="#g53f7" x="12"/><use href="#g8ba1" x="24"/><use href="#g7b97" x="36"/><use href="#g7ed3" x="48"/><use href="#g675f" x="60"/><use href="#g65f6" x="72"/><use href="#g95f4" x="84"/></svg></span><span class="v"><svg class="c" width="48" height="13" viewBox="0 0 48 13" role="img" aria-label="2019-1-9"><use href="#g32" x="0" y="-1"/><use href="#g30" x="6" y="-1"/><use href="#g31" x="12" y="-1"/><use href="#g39" x="18" y="-1"/><use href="#g2d" x="24" y="-1"/><use href="#g31" x="30" y="-1"/><use href="#g2d" x="36" y="-1"/><use href="#g39" x="42" y="-1"/></svg></span></div>
<div class="r" style="top:183px"><span class="k"><svg class="c" width="24" height="13" viewBox="0 0 24 13" role="img" aria-label="单位"><use href="#g5355" x="0"/><use href="#g4f4d" x="12"/></svg></span><span class="v"><svg class="c" width="108" height="13" viewBox="0 0 108 13" role="img" aria-label="10（吨/手，元/点）"><use href="#g31" x="0" y="-1"/><use href="#g30" x="6" y="-1"/><use href="#gff08" x="12"/><use href="#g5428" x="24"/><use href="#g2f" x="36" y="-1"/><use href="#g624b" x="42"/><use href="#gff0c" x="54"/><use href="#g5143" x="66"/><use href="#g2f" x="78" y="-1"/><use href="#g70b9" x="84"/><use href="#gff09" x="96"/></svg></span></div>
<div class="r" style="top:199px"><span class="k"><svg class="c" width="36" height="13" viewBox="0 0 36 13" role="img" aria-label="保证金"><use href="#g4fdd" x="0"/><use href="#g8bc1" x="12"/><use href="#g91d1" x="24"/></svg></span><span class="v"><svg class="c" width="30" height="13" viewBox="0 0 30 13" role="img" aria-label="8.00%"><use href="#g38" x="0" y="-1"/><use href="#g2e" x="5" y="-1"/><use href="#g30" x="12" y="-1"/><use href="#g30" x="18" y="-1"/><use href="#g25" x="24" y="-1"/></svg></span></div>
<div class="r" style="top:215px"><span class="k"><svg class="c" width="36" height="13" viewBox="0 0 36 13" role="img" aria-label="手续费"><use href="#g624b" x="0"/><use href="#g7eed" x="12"/><use href="#g8d39" x="24"/></svg></span><span class="v"><svg class="c" width="36" height="13" viewBox="0 0 36 13" role="img" aria-label="0.00%%"><use href="#g30" x="0" y="-1"/><use href="#g2e" x="5" y="-1"/><use href="#g30" x="12" y="-1"/><use href="#g30" x="18" y="-1"/><use href="#g25" x="24" y="-1"/><use href="#g25" x="30" y="-1"/></svg></span></div>
<div class="r" style="top:231px"><span class="k"><svg class="c" width="24" height="13" viewBox="0 0 24 13" role="img" aria-label="滑点"><use href="#g6ed1" x="0"/><use href="#g70b9" x="12"/></svg></span><span class="v"><svg class="c" width="6" height="13" viewBox="0 0 6 13" role="img" aria-label="0"><use href="#g30" x="0" y="-1"/></svg></span></div>
<div class="r" style="top:247px"><span class="k"><svg class="c" width="48" height="13" viewBox="0 0 48 13" role="img" aria-label="开仓手数"><use href="#g5f00" x="0"/><use href="#g4ed3" x="12"/><use href="#g624b" x="24"/><use href="#g6570" x="36"/></svg></span><span class="v"><svg class="c" width="12" height="13" viewBox="0 0 12 13" role="img" aria-label="50"><use href="#g35" x="0" y="-1"/><use href="#g30" x="6" y="-1"/></svg></span></div>
<div class="r" style="top:263px"><span class="k"><svg class="c" width="72" height="13" viewBox="0 0 72 13" role="img" aria-label="初始资金比例"><use href="#g521d" x="0"/><use href="#g59cb" x="12"/><use href="#g8d44" x="24"/><use href="#g91d1" x="36"/><use href="#g6bd4" x="48"/><use href="#g4f8b" x="60"/></svg></span><span class="v"><svg class="c" width="36" height="13" viewBox="0 0 36 13" role="img" aria-label="14.32%"><use href="#g31" x="0" y="-1"/><use href="#g34" x="6" y="-1"/><use href="#g2e" x="11" y="-1"/><use href="#g33" x="18" y="-1"/><use href="#g32" x="24" y="-1"/><use href="#g25" x="30" y="-1"/></svg></span></div>
<div class="r" style="top:279px"><span class="k"><svg class="c" width="24" height="13" viewBox="0 0 24 13" role="img" aria-label="模型"><use href="#g6a21" x="0"/><use href="#g578b" x="12"/></svg></span><span class="v"><svg class="c" width="78" height="13" viewBox="0 0 78 13" role="img" aria-label="K线形态_商品N"><use href="#g4b" x="0" y="-1"/><use href="#g7ebf" x="6"/><use href="#g5f62" x="18"/><use href="#g6001" x="30"/><use href="#g5f" x="42" y="-1"/><use href="#g5546" x="48"/><use href="#g54c1" x="60"/><use href="#g4e" x="72" y="-1"/></svg></span></div>
<div class="r" style="top:295px"><span class="k"><svg class="c" width="24" height="13" viewBox="0 0 24 13" role="img" aria-label="参数"><use href="#g53c2" x="0"/><use href="#g6570" x="12"/></svg></span><span class="v"><svg class="c" width="78" height="13" viewBox="0 0 78 13" role="img" aria-label="[0,0,0,0,0,0]"><use href="#g5b" x="0" y="-1"/><use href="#g30" x="6" y="-1"/><use href="#g2c" x="11" y="-1"/><use href="#g30" x="18" y="-1"/><use href="#g2c" x="23" y="-1"/><use href="#g30" x="30" y="-1"/><use href="#g2c" x="35" y="-1"/><use href="#g30" x="42" y="-1"/><use href="#g2c" x="47" y="-1"/><use href="#g30" x="54" y="-1"/><use href="#g2c" x="59" y="-1"/><use href="#g30" x="66" y="-1"/><use href="#g5d" x="72" y="-1"/></svg></span></div>
<div class="r" style="top:327px"><span class="k"><svg class="c" width="24" height="13" viewBox="0 0 24 13" role="img" aria-label="名称"><use href="#g540d" x="0"/><use href="#g79f0" x="12"/></svg></span><span class="v"><svg class="c" width="48" height="13" viewBox="0 0 48 13" role="img" aria-label="全部交易"><use href="#g5168" x="0"/><use href="#g90e8" x="12"/><use href="#g4ea4" x="24"/><use href="#g6613" x="36"/></svg></span></div>
<div class="r" style="top:343px"><span class="k"><svg class="c" width="48" height="13" viewBox="0 0 48 13" role="img" aria-label="测试天数"><use href="#g6d4b" x="0"/><use href="#g8bd5" x="12"/><use href="#g5929" x="24"/><use href="#g6570" x="36"/></svg></span><span class="v"><svg class="c" width="24" height="13" viewBox="0 0 24 13" role="img" aria-label="1102"><use href="#g31" x="0" y="-1"/><use href="#g31" x="6" y="-1"/><use href="#g30" x="12" y="-1"/><use href="#g32" x="18" y="-1"/></svg></span></div>
<div class="r" style="top:359px"><span class="k"><svg class="c" width="60" height="13" viewBox="0 0 60 13" role="img" aria-label="测试周期数"><use href="#g6d4b" x="0"/><use href="#g8bd5" x="12"/><use href="#g5468" x="24"/><use href="#g671f" x="36"/><use href="#g6570" x="48"/></svg></span><span class="v"><svg class="c" width="30" height="13" viewBox="0 0 30 13" role="img" aria-label="17390"><use href="#g31" x="0" y="-1"/><use href="#g37" x="6" y="-1"/><use href="#g33" x="12" y="-1"/><use href="#g39" x="18" y="-1"/><use href="#g30" x="24" y="-1"/></svg></span></div>
<div class="r" style="top:375px"><span class="k"><svg class="c" width="48" height="13" viewBox="0 0 48 13" role="img" aria-label="信号个数"><use href="#g4fe1" x="0"/><use href="#g53f7" x="12"/><use href="#g4e2a" x="24"/><use href="#g6570" x="36"/></svg></span><span class="v"><svg class="c" width="24" height="13" viewBox="0 0 24 13" role="img" aria-label="1648"><use href="#g31" x="0" y="-1"/><use href="#g36" x="6" y="-1"/><use href="#g34" x="12" y="-1"/><use href="#g38" x="18" y="-1"/></svg></span></div>
<div class="r" style="top:391px"><span class="k"><svg class="c" width="48" height="13" viewBox="0 0 48 13" role="img" aria-label="指令总数"><use href="#g6307" x="0"/><use href="#g4ee4" x="12"/><use href="#g603b" x="24"/><use href="#g6570" x="36"/></svg></span><span class="v"><svg class="c" width="24" height="13" viewBox="0 0 24 13" role="img" aria-label="1648"><use href="#g31" x="0" y="-1"/><use href="#g36" x="6" y="-1"/><use href="#g34" x="12" y="-1"/><use href="#g38" x="18" y="-1"/></svg></span></div>
<div class="r" style="top:407px"><span class="k"><svg class="c" width="72" height="13" viewBox="0 0 72 13" role="img" aria-label="信号消失次数"><use href="#g4fe1" x="0"/><use href="#g53f7" x="12"/><use href="#g6d88" x="24"/><use href="#g5931" x="36"/><use href="#g6b21" x="48"/><use href="#g6570" x="60"/></svg></span><span class="v"><svg class="c" width="6" height="13" viewBox="0 0 6 13" role="img" aria-label="0"><use href="#g30" x="0" y="-1"/></svg></span></div>
<div class="r" style="top:423px"><span class="k"><svg class="c" width="60" height="13" viewBox="0 0 60 13" role="img" aria-label="资金分配量"><use href="#g8d44" x="0"/><use href="#g91d1" x="12"/><use href="#g5206" x="24"/><use href="#g914d" x="36"/><use href="#g91cf" x="48"/></svg></span><span class="v"><svg class="c" width="36" height="13" viewBox="0 0 36 13" role="img" aria-label="500000"><use href="#g35" x="0" y="-1"/><use href="#g30" x="6" y="-1"/><use href="#g30" x="12" y="-1"/><use href="#g30" x="18" y="-1"/><use href="#g30" x="24" y="-1"/><use href="#g30" x="30" y="-1"/></svg></span></div>
<div class="r" style="top:439px"><span class="k"><svg class="c" width="48" height="13" viewBox="0 0 48 13" role="img" aria-label="最终权益"><use href="#g6700" x="0"/><use href="#g7ec8" x="12"/><use href="#g6743" x="24"/><use href="#g76ca" x="36"/></svg></span><span class="v"><svg class="c" width="42" height="13" viewBox="0 0 42 13" role="img" aria-label="1361000"><use href="#g31" x="0" y="-1"/><use href="#g33" x="6" y="-1"/><use href="#g36" x="12" y="-1"/><use href="#g31" x="18" y="-1"/><use href="#g30" x="24" y="-1"/><use href="#g30" x="30" y="-1"/><use href="#g30" x="36" y="-1"/></svg></span></div>
<div class="r" style="top:455px"><span class="k"><svg class="c" width="60" height="13" viewBox="0 0 60 13" role="img" aria-label="空仓周期数"><use href="#g7a7a" x="0"/><use href="#g4ed3" x="12"/><use href="#g5468" x="24"/><use href="#g671f" x="36"/><use href="#g6570" x="48"/></svg></span><span class="v"><svg class="c" width="24" height="13" viewBox="0 0 24 13" role="img" aria-label="4555"><use href="#g34" x="0" y="-1"/><use href="#g35" x="6" y="-1"/><use href="#g35" x="12" y="-1"/><use href="#g35" x="18" y="-1"/></svg></span></div>
<div class="r" style="top:471px"><span class="k"><svg class="c" width="108" height="13" viewBox="0 0 108 13" role="img" aria-label="最长连续空仓周期数"><use href="#g6700" x="0"/><use href="#g957f" x="12"/><use href="#g8fde" x="24"/><use href="#g7eed" x="36"/><use href="#g7a7a" x="48"/><use href="#g4ed3" x="60"/><use href="#g5468" x="72"/><use href="#g671f" x="84"/><use href="#g6570" x="96"/></svg></span><span class="v"><svg class="c" width="12" height="13" viewBox="0 0 12 13" role="img" aria-label="60"><use href="#g36" x="0" y="-1"/><use href="#g30" x="6" y="-1"/></svg></span></div>
<div class="r" style="top:487px"><span class="k"><svg class="c" width="72" height="13" viewBox="0 0 72 13" role="img" aria-label="最长交易周期"><use href="#g6700" x="0"/><use href="#g957f" x="12"/><use href="#g4ea4" x="24"/><use href="#g6613" x="36"/><use href="#g5468" x="48"/><use href="#g671f" x="60"/></svg></span><span class="v"><svg class="c" width="12" height="13" viewBox="0 0 12 13" role="img" aria-label="29"><use href="#g32" x="0" y="-1"/><use href="#g39" x="6" y="-1"/></svg></span></div>
<div class="r" style="top:503px"><span class="k"><svg class="c" width="48" height="13" viewBox="0 0 48 13" role="img" aria-label="标准离差"><use href="#g6807" x="0"/><use href="#g51c6" x="12"/><use href="#g79bb" x="24"/><use href="#g5dee" x="36"/></svg></span><span class="v"><svg class="c" width="48" height="13" viewBox="0 0 48 13" role="img" aria-label="22076.20"><use href="#g32" x="0" y="-1"/><use href="#g32" x="6" y="-1"/><use href="#g30" x="12" y="-1"/><use href="#g37" x="18" y="-1"/><use href="#g36" x="24" y="-1"/><use href="#g2e" x="29" y="-1"/><use href="#g32" x="36" y="-1"/><use href="#g30" x="42" y="-1"/></svg></span></div>
<div class="r" style="top:519px"><span class="k"><svg class="c" width="60" height="13" viewBox="0 0 60 13" role="img" aria-label="标准离差率"><use href="#g6807" x="0"/><use href="#g51c6" x="12"/><use href="#g79bb" x="24"/><use href="#g5dee" x="36"/><use href="#g7387" x="48"/></svg></span><span class="v"><svg class="c" width="48" height="13" viewBox="0 0 48 13" role="img" aria-label="2423.00%"><use href="#g32" x="0" y="-1"/><use href="#g34" x="6" y="-1"/><use href="#g32" x="12" y="-1"/><use href="#g33" x="18" y="-1"/><use href="#g2e" x="23" y="-1"/><use href="#g30" x="30" y="-1"/><use href="#g30" x="36" y="-1"/><use href="#g25" x="42" y="-1"/></svg></span></div>
<div class="r" style="top:535px"><span class="k"><svg class="c" width="48" height="13" viewBox="0 0 48 13" role="img" aria-label="夏普比率"><use href="#g590f" x="0"/><use href="#g666e" x="12"/><use href="#g6bd4" x="24"/><use href="#g7387" x="36"/></svg></span><span class="v"><svg class="c" width="30" height="13" viewBox="0 0 30 13" role="img" aria-label="22.45"><use href="#g32" x="0" y="-1"/><use href="#g32" x="6" y="-1"/><use href="#g2e" x="11" y="-1"/><use href="#g34" x="18" y="-1"/><use href="#g35" x="24" y="-1"/></svg></span></div>
<div class="r" style="top:551px"><span class="k"><svg class="c" width="114" height="13" viewBox="0 0 114 13" role="img" aria-label="盈亏总平均/亏损平均"><use href="#g76c8" x="0"/><use href="#g4e8f" x="12"/><use href="#g603b" x="24"/><use href="#g5e73" x="36"/><use href="#g5747" x="48"/><use href="#g2f" x="60" y="-1"/><use href="#g4e8f" x="66"/><use href="#g635f" x="78"/><use href="#g5e73" x="90"/><use href="#g5747" x="102"/></svg></span><span class="v"><svg class="c" width="24" height="13" viewBox="0 0 24 13" role="img" aria-label="0.06"><use href="#g30" x="0" y="-1"/><use href="#g2e" x="5" y="-1"/><use href="#g30" x="12" y="-1"/><use href="#g36" x="18" y="-1"/></svg></span></div>
<div class="r" style="top:567px"><span class="k"><svg class="c" width="72" height="13" viewBox="0 0 72 13" role="img" aria-label="权益最大回撤"><use href="#g6743" x="0"/><use href="#g76ca" x="12"/><use href="#g6700" x="24"/><use href="#g5927" x="36"/><use href="#g56de" x="48"/><use href="#g64a4" x="60"/></svg></span><span class="v"><svg class="c" width="54" height="13" viewBox="0 0 54 13" role="img" aria-label="489000.00"><use href="#g34" x="0" y="-1"/><use href="#g38" x="6" y="-1"/><use href="#g39" x="12" y="-1"/><use href="#g30" x="18" y="-1"/><use href="#g30" x="24" y="-1"/><use href="#g30" x="30" y="-1"/><use href="#g2e" x="35" y="-1"/><use href="#g30" x="42" y="-1"/><use href="#g30" x="48" y="-1"/></svg></span></div>
<div class="r" style="top:583px"><span class="k"><svg class="c" width="96" height="13" viewBox="0 0 96 13" role="img" aria-label="权益最大回撤时间"><use href="#g6743" x="0"/><use href="#g76ca" x="12"/><use href="#g6700" x="24"/><use href="#g5927" x="36"/><use href="#g56de" x="48"/><use href="#g64a4" x="60"/><use href="#g65f6" x="72"/><use href="#g95f4" x="84"/></svg></span><span class="v"><svg class="c" width="96" height="13" viewBox="0 0 96 13" role="img" aria-label="2018/08/29 14:15"><use href="#g32" x="0" y="-1"/><use href="#g30" x="6" y="-1"/><use href="#g31" x="12" y="-1"/><use href="#g38" x="18" y="-1"/><use href="#g2f" x="24" y="-1"/><use href="#g30" x="30" y="-1"/><use href="#g38" x="36" y="-1"/><use href="#g2f" x="42" y="-1"/><use href="#g32" x="48" y="-1"/><use href="#g39" x="54" y="-1"/><use href="#g31" x="66" y="-1"/><use href="#g34" x="72" y="-1"/><use href="#g3a" x="80" y="-1"/><use href="#g31" x="84" y="-1"/><use href="#g35" x="90" y="-1"/></svg></span></div>
<div class="r" style="top:599px"><span class="k"><svg class="c" width="84" height="13" viewBox="0 0 84 13" role="img" aria-label="权益最大回撤比"><use href="#g6743" x="0"/><use href="#g76ca" x="12"/><use href="#g6700" x="24"/><use href="#g5927" x="36"/><use href="#g56de" x="48"/><use href="#g64a4" x="60"/><use href="#g6bd4" x="72"/></svg></span><span class="v"><svg class="c" width="36" height="13" viewBox="0 0 36 13" role="img" aria-label="49.37%"><use href="#g34" x="0" y="-1"/><use href="#g39" x="6" y="-1"/><use href="#g2e" x="11" y="-1"/><use href="#g33" x="18" y="-1"/><use href="#g37" x="24" y="-1"/><use href="#g25" x="30" y="-1"/></svg></span></div>
<div class="r" style="top:615px"><span class="k"><svg class="c" width="108" height="13" viewBox="0 0 108 13" role="img" aria-label="权益最大回撤比时间"><use href="#g6743" x="0"/><use href="#g76ca" x="12"/><use href="#g6700" x="24"/><use href="#g5927" x="36"/><use href="#g56de" x="48"/><use href="#g64a4" x="60"/><use href="#g6bd4" x="72"/><use href="#g65f6" x="84"/><use href="#g95f4" x="96"/></svg></span><span class="v"><svg class="c" width="96" height="13" viewBox="0 0 96 13" role="img" aria-label="2016/11/21 11:00"><use href="#g32" x="0" y="-1"/><use href="#g30" x="6" y="-1"/><use href="#g31" x="12" y="-1"/><use href="#g36" x="18" y="-1"/><use href="#g2f" x="24" y="-1"/><use href="#g31" x="30" y="-1"/><use href="#g31" x="36" y="-1"/><use href="#g2f" x="42" y="-1"/><use href="#g32" x="48" y="-1"/><use href="#g31" x="54" y="-1"/><use href="#g31" x="66" y="-1"/><use href="#g31" x="72" y="-1"/><use href="#g3a" x="80" y="-1"/><use href="#g30" x="84" y="-1"/><use href="#g30" x="90" y="-1"/></svg></span></div>
<div class="r" style="top:631px"><span class="k"><svg class="c" width="132" height="13" viewBox="0 0 132 13" role="img" aria-label="权益最长未创新高周期数"><use href="#g6743" x="0"/><use href="#g76ca" x="12"/><use href="#g6700" x="24"/><use href="#g957f" x="36"/><use href="#g672a" x="48"/><use href="#g521b" x="60"/><use href="#g65b0" x="72"/><use href="#g9ad8" x="84"/><use href="#g5468" x="96"/><use href="#g671f" x="108"/><use href="#g6570" x="120"/></svg></span><span class="v"><svg class="c" width="24" height="13" viewBox="0 0 24 13" role="img" aria-label="7486"><use href="#g37" x="0" y="-1"/><use href="#g34" x="6" y="-1"/><use href="#g38" x="12" y="-1"/><use href="#g36" x="18" y="-1"/></svg></span></div>
<div class="r" style="top:647px"><span class="k"><svg class="c" width="132" height="13" viewBox="0 0 132 13" role="img" aria-label="权益最长未创新高时间段"><use href="#g6743" x="0"/><use href="#g76ca" x="12"/><use href="#g6700" x="24"/><use href="#g957f" x="36"/><use href="#g672a" x="48"/><use href="#g521b" x="60"/><use href="#g65b0" x="72"/><use href="#g9ad8" x="84"/><use href="#g65f6" x="96"/><use href="#g95f4" x="108"/><use href="#g6bb5" x="120"/></svg></span><span class="v"><svg class="c" width="174" height="13" viewBox="0 0 174 13" role="img" aria-label="2017/02/21 09:45 - 2018/08/29"><use href="#g32" x="0" y="-1"/><use href="#g30" x="6" y="-1"/><use href="#g31" x="12" y="-1"/><use href="#g37" x="18" y="-1"/><use href="#g2f" x="24" y="-1"/><use href="#g30" x="30" y="-1"/><use href="#g32" x="36" y="-1"/><use href="#g2f" x="42" y="-1"/><use href="#g32" x="48" y="-1"/><use href="#g31" x="54" y="-1"/><use href="#g30" x="66" y="-1"/><use href="#g39" x="72" y="-1"/><use href="#g3a" x="80" y="-1"/><use href="#g34" x="84" y="-1"/><use href="#g35" x="90" y="-1"/><use href="#g2d" x="102" y="-1"/><use href="#g32" x="114" y="-1"/><use href="#g30" x="120" y="-1"/><use href="#g31" x="126" y="-1"/><use href="#g38" x="132" y="-1"/><use href="#g2f" x="138" y="-1"/><use href="#g30" x="144" y="-1"/><use href="#g38" x="150" y="-1"/><use href="#g2f" x="156" y="-1"/><use href="#g32" x="162" y="-1"/><use href="#g39" x="168" y="-1"/></svg></span></div>
</div>
</body></html>
